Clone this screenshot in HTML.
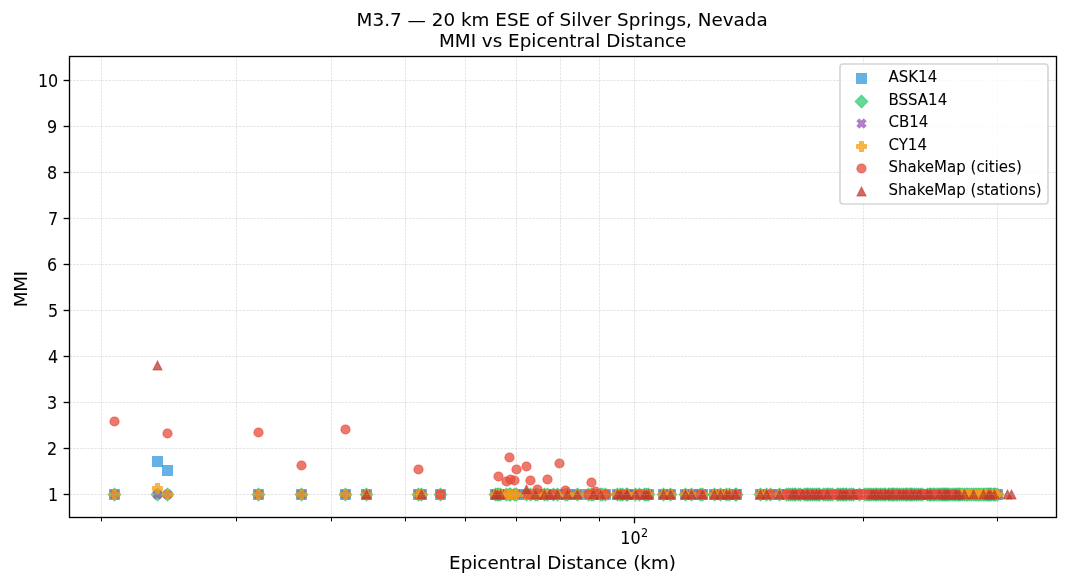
<!DOCTYPE html>
<html lang="en"><head><meta charset="utf-8"><title>MMI vs Epicentral Distance</title>
<style>
html,body{margin:0;padding:0;background:#fff;}
body{width:1067px;height:585px;overflow:hidden;}
svg{display:block;}
svg text{font-family:"DejaVu Sans","Liberation Sans",sans-serif;fill:#000;stroke:#000;stroke-width:.045px;}
.t11{font-size:18.333px}.t10{font-size:16.667px}.t9{font-size:15px}.t7{font-size:11.667px}
.g line{stroke:#b0b0b0;stroke-opacity:.5;stroke-width:.667;stroke-dasharray:2.467 1.067}
.a{fill:#3498DB;stroke:#3498DB}.b{fill:#2ECC71;stroke:#2ECC71}.c{fill:#9B59B6;stroke:#9B59B6}.d{fill:#F39C12;stroke:#F39C12}.e{fill:#E74C3C;stroke:#E74C3C}.s{fill:#C0392B;stroke:#C0392B}
.m *{fill-opacity:.75;stroke-opacity:.75;stroke-width:.833;stroke-linejoin:miter}
.m .b *,.m .c *,.m .s *{stroke-width:1.01;stroke-opacity:.62}
.m .e *{stroke-width:1.05}
.k line{stroke:#000;stroke-width:1.333}
.k .n{stroke-width:1}
</style></head><body>
<svg width="1067" height="585" viewBox="0 0 1067 585">
<rect width="1067" height="585" fill="#fff"/>
<g class="m">
<g class="a"><rect x="109.5" y="489.5" width="10" height="10"/><rect x="152.5" y="456.5" width="10" height="10"/><rect x="162.5" y="465.5" width="10" height="10"/><rect x="253.5" y="489.5" width="10" height="10"/><rect x="296.5" y="489.5" width="10" height="10"/><rect x="340.5" y="489.5" width="10" height="10"/><rect x="361.5" y="489.5" width="10" height="10"/><rect x="413.5" y="489.5" width="10" height="10"/><rect x="416.5" y="489.5" width="10" height="10"/><rect x="435.5" y="489.5" width="10" height="10"/><rect x="490.5" y="489.5" width="10" height="10"/><rect x="492.5" y="489.5" width="10" height="10"/><rect x="493.5" y="489.5" width="10" height="10"/><rect x="495.5" y="489.5" width="10" height="10"/><rect x="501.5" y="489.5" width="10" height="10"/><rect x="504.5" y="489.5" width="10" height="10"/><rect x="505.5" y="489.5" width="10" height="10"/><rect x="509.5" y="489.5" width="10" height="10"/><rect x="511.5" y="489.5" width="10" height="10"/><rect x="521.5" y="489.5" width="10" height="10"/><rect x="525.5" y="489.5" width="10" height="10"/><rect x="530.5" y="489.5" width="10" height="10"/><rect x="532.5" y="489.5" width="10" height="10"/><rect x="539.5" y="489.5" width="10" height="10"/><rect x="542.5" y="489.5" width="10" height="10"/><rect x="548.5" y="489.5" width="10" height="10"/><rect x="552.5" y="489.5" width="10" height="10"/><rect x="560.5" y="489.5" width="10" height="10"/><rect x="562.5" y="489.5" width="10" height="10"/><rect x="572.5" y="489.5" width="10" height="10"/><rect x="583.5" y="489.5" width="10" height="10"/><rect x="586.5" y="489.5" width="10" height="10"/><rect x="588.5" y="489.5" width="10" height="10"/><rect x="595.5" y="489.5" width="10" height="10"/><rect x="597.5" y="489.5" width="10" height="10"/><rect x="600.5" y="489.5" width="10" height="10"/><rect x="612.5" y="489.5" width="10" height="10"/><rect x="615.5" y="489.5" width="10" height="10"/><rect x="617.5" y="489.5" width="10" height="10"/><rect x="621.5" y="489.5" width="10" height="10"/><rect x="622.5" y="489.5" width="10" height="10"/><rect x="630.5" y="489.5" width="10" height="10"/><rect x="634.5" y="489.5" width="10" height="10"/><rect x="639.5" y="489.5" width="10" height="10"/><rect x="641.5" y="489.5" width="10" height="10"/><rect x="643.5" y="489.5" width="10" height="10"/><rect x="658.5" y="489.5" width="10" height="10"/><rect x="665.5" y="489.5" width="10" height="10"/><rect x="680.5" y="489.5" width="10" height="10"/><rect x="686.5" y="489.5" width="10" height="10"/><rect x="695.5" y="489.5" width="10" height="10"/><rect x="697.5" y="489.5" width="10" height="10"/><rect x="709.5" y="489.5" width="10" height="10"/><rect x="715.5" y="489.5" width="10" height="10"/><rect x="721.5" y="489.5" width="10" height="10"/><rect x="724.5" y="489.5" width="10" height="10"/><rect x="730.5" y="489.5" width="10" height="10"/><rect x="731.5" y="489.5" width="10" height="10"/><rect x="755.5" y="489.5" width="10" height="10"/><rect x="761.5" y="489.5" width="10" height="10"/><rect x="765.5" y="489.5" width="10" height="10"/><rect x="774.5" y="489.5" width="10" height="10"/><rect x="781.5" y="489.5" width="10" height="10"/><rect x="783.5" y="489.5" width="10" height="10"/><rect x="785.5" y="489.5" width="10" height="10"/><rect x="787.5" y="489.5" width="10" height="10"/><rect x="789.5" y="489.5" width="10" height="10"/><rect x="790.5" y="489.5" width="10" height="10"/><rect x="793.5" y="489.5" width="10" height="10"/><rect x="795.5" y="489.5" width="10" height="10"/><rect x="799.5" y="489.5" width="10" height="10"/><rect x="801.5" y="489.5" width="10" height="10"/><rect x="802.5" y="489.5" width="10" height="10"/><rect x="803.5" y="489.5" width="10" height="10"/><rect x="805.5" y="489.5" width="10" height="10"/><rect x="807.5" y="489.5" width="10" height="10"/><rect x="809.5" y="489.5" width="10" height="10"/><rect x="811.5" y="489.5" width="10" height="10"/><rect x="813.5" y="489.5" width="10" height="10"/><rect x="814.5" y="489.5" width="10" height="10"/><rect x="818.5" y="489.5" width="10" height="10"/><rect x="820.5" y="489.5" width="10" height="10"/><rect x="822.5" y="489.5" width="10" height="10"/><rect x="823.5" y="489.5" width="10" height="10"/><rect x="825.5" y="489.5" width="10" height="10"/><rect x="827.5" y="489.5" width="10" height="10"/><rect x="832.5" y="489.5" width="10" height="10"/><rect x="833.5" y="489.5" width="10" height="10"/><rect x="835.5" y="489.5" width="10" height="10"/><rect x="837.5" y="489.5" width="10" height="10"/><rect x="838.5" y="489.5" width="10" height="10"/><rect x="840.5" y="489.5" width="10" height="10"/><rect x="841.5" y="489.5" width="10" height="10"/><rect x="844.5" y="489.5" width="10" height="10"/><rect x="846.5" y="489.5" width="10" height="10"/><rect x="848.5" y="489.5" width="10" height="10"/><rect x="854.5" y="489.5" width="10" height="10"/><rect x="859.5" y="489.5" width="10" height="10"/><rect x="861.5" y="489.5" width="10" height="10"/><rect x="863.5" y="489.5" width="10" height="10"/><rect x="864.5" y="489.5" width="10" height="10"/><rect x="866.5" y="489.5" width="10" height="10"/><rect x="868.5" y="489.5" width="10" height="10"/><rect x="870.5" y="489.5" width="10" height="10"/><rect x="871.5" y="489.5" width="10" height="10"/><rect x="873.5" y="489.5" width="10" height="10"/><rect x="875.5" y="489.5" width="10" height="10"/><rect x="877.5" y="489.5" width="10" height="10"/><rect x="879.5" y="489.5" width="10" height="10"/><rect x="880.5" y="489.5" width="10" height="10"/><rect x="883.5" y="489.5" width="10" height="10"/><rect x="884.5" y="489.5" width="10" height="10"/><rect x="886.5" y="489.5" width="10" height="10"/><rect x="887.5" y="489.5" width="10" height="10"/><rect x="888.5" y="489.5" width="10" height="10"/><rect x="889.5" y="489.5" width="10" height="10"/><rect x="891.5" y="489.5" width="10" height="10"/><rect x="892.5" y="489.5" width="10" height="10"/><rect x="894.5" y="489.5" width="10" height="10"/><rect x="896.5" y="489.5" width="10" height="10"/><rect x="898.5" y="489.5" width="10" height="10"/><rect x="900.5" y="489.5" width="10" height="10"/><rect x="901.5" y="489.5" width="10" height="10"/><rect x="902.5" y="489.5" width="10" height="10"/><rect x="904.5" y="489.5" width="10" height="10"/><rect x="905.5" y="489.5" width="10" height="10"/><rect x="906.5" y="489.5" width="10" height="10"/><rect x="907.5" y="489.5" width="10" height="10"/><rect x="909.5" y="489.5" width="10" height="10"/><rect x="911.5" y="489.5" width="10" height="10"/><rect x="913.5" y="489.5" width="10" height="10"/><rect x="915.5" y="489.5" width="10" height="10"/><rect x="917.5" y="489.5" width="10" height="10"/><rect x="922.5" y="489.5" width="10" height="10"/><rect x="924.5" y="489.5" width="10" height="10"/><rect x="925.5" y="489.5" width="10" height="10"/><rect x="926.5" y="489.5" width="10" height="10"/><rect x="928.5" y="489.5" width="10" height="10"/><rect x="929.5" y="489.5" width="10" height="10"/><rect x="931.5" y="489.5" width="10" height="10"/><rect x="933.5" y="489.5" width="10" height="10"/><rect x="934.5" y="489.5" width="10" height="10"/><rect x="936.5" y="489.5" width="10" height="10"/><rect x="937.5" y="489.5" width="10" height="10"/><rect x="938.5" y="489.5" width="10" height="10"/><rect x="939.5" y="489.5" width="10" height="10"/><rect x="940.5" y="489.5" width="10" height="10"/><rect x="941.5" y="489.5" width="10" height="10"/><rect x="942.5" y="489.5" width="10" height="10"/><rect x="943.5" y="489.5" width="10" height="10"/><rect x="945.5" y="489.5" width="10" height="10"/><rect x="947.5" y="489.5" width="10" height="10"/><rect x="949.5" y="489.5" width="10" height="10"/><rect x="950.5" y="489.5" width="10" height="10"/><rect x="952.5" y="489.5" width="10" height="10"/><rect x="953.5" y="489.5" width="10" height="10"/><rect x="954.5" y="489.5" width="10" height="10"/><rect x="955.5" y="489.5" width="10" height="10"/><rect x="957.5" y="489.5" width="10" height="10"/><rect x="959.5" y="489.5" width="10" height="10"/><rect x="961.5" y="489.5" width="10" height="10"/><rect x="962.5" y="489.5" width="10" height="10"/><rect x="964.5" y="489.5" width="10" height="10"/><rect x="966.5" y="489.5" width="10" height="10"/><rect x="968.5" y="489.5" width="10" height="10"/><rect x="970.5" y="489.5" width="10" height="10"/><rect x="971.5" y="489.5" width="10" height="10"/><rect x="973.5" y="489.5" width="10" height="10"/><rect x="974.5" y="489.5" width="10" height="10"/><rect x="976.5" y="489.5" width="10" height="10"/><rect x="978.5" y="489.5" width="10" height="10"/><rect x="979.5" y="489.5" width="10" height="10"/><rect x="981.5" y="489.5" width="10" height="10"/><rect x="982.5" y="489.5" width="10" height="10"/><rect x="983.5" y="489.5" width="10" height="10"/><rect x="984.5" y="489.5" width="10" height="10"/><rect x="985.5" y="489.5" width="10" height="10"/><rect x="986.5" y="489.5" width="10" height="10"/><rect x="988.5" y="489.5" width="10" height="10"/><rect x="989.5" y="489.5" width="10" height="10"/><rect x="990.5" y="489.5" width="10" height="10"/><rect x="992.5" y="489.5" width="10" height="10"/></g>
<g class="b"><path d="M114.5 488.05L120.95 494.5L114.5 500.95L108.05 494.5Z"/><path d="M157.5 488.05L163.95 494.5L157.5 500.95L151.05 494.5Z"/><path d="M167.5 488.05L173.95 494.5L167.5 500.95L161.05 494.5Z"/><path d="M258.5 488.05L264.95 494.5L258.5 500.95L252.05 494.5Z"/><path d="M301.5 488.05L307.95 494.5L301.5 500.95L295.05 494.5Z"/><path d="M345.5 488.05L351.95 494.5L345.5 500.95L339.05 494.5Z"/><path d="M366.5 488.05L372.95 494.5L366.5 500.95L360.05 494.5Z"/><path d="M418.5 488.05L424.95 494.5L418.5 500.95L412.05 494.5Z"/><path d="M421.5 488.05L427.95 494.5L421.5 500.95L415.05 494.5Z"/><path d="M440.5 488.05L446.95 494.5L440.5 500.95L434.05 494.5Z"/><path d="M495.5 488.05L501.95 494.5L495.5 500.95L489.05 494.5Z"/><path d="M497.5 488.05L503.95 494.5L497.5 500.95L491.05 494.5Z"/><path d="M498.5 488.05L504.95 494.5L498.5 500.95L492.05 494.5Z"/><path d="M500.5 488.05L506.95 494.5L500.5 500.95L494.05 494.5Z"/><path d="M506.5 488.05L512.95 494.5L506.5 500.95L500.05 494.5Z"/><path d="M509.5 488.05L515.95 494.5L509.5 500.95L503.05 494.5Z"/><path d="M510.5 488.05L516.95 494.5L510.5 500.95L504.05 494.5Z"/><path d="M514.5 488.05L520.95 494.5L514.5 500.95L508.05 494.5Z"/><path d="M516.5 488.05L522.95 494.5L516.5 500.95L510.05 494.5Z"/><path d="M526.5 488.05L532.95 494.5L526.5 500.95L520.05 494.5Z"/><path d="M530.5 488.05L536.95 494.5L530.5 500.95L524.05 494.5Z"/><path d="M535.5 488.05L541.95 494.5L535.5 500.95L529.05 494.5Z"/><path d="M537.5 488.05L543.95 494.5L537.5 500.95L531.05 494.5Z"/><path d="M544.5 488.05L550.95 494.5L544.5 500.95L538.05 494.5Z"/><path d="M547.5 488.05L553.95 494.5L547.5 500.95L541.05 494.5Z"/><path d="M553.5 488.05L559.95 494.5L553.5 500.95L547.05 494.5Z"/><path d="M557.5 488.05L563.95 494.5L557.5 500.95L551.05 494.5Z"/><path d="M565.5 488.05L571.95 494.5L565.5 500.95L559.05 494.5Z"/><path d="M567.5 488.05L573.95 494.5L567.5 500.95L561.05 494.5Z"/><path d="M577.5 488.05L583.95 494.5L577.5 500.95L571.05 494.5Z"/><path d="M588.5 488.05L594.95 494.5L588.5 500.95L582.05 494.5Z"/><path d="M591.5 488.05L597.95 494.5L591.5 500.95L585.05 494.5Z"/><path d="M593.5 488.05L599.95 494.5L593.5 500.95L587.05 494.5Z"/><path d="M600.5 488.05L606.95 494.5L600.5 500.95L594.05 494.5Z"/><path d="M602.5 488.05L608.95 494.5L602.5 500.95L596.05 494.5Z"/><path d="M605.5 488.05L611.95 494.5L605.5 500.95L599.05 494.5Z"/><path d="M617.5 488.05L623.95 494.5L617.5 500.95L611.05 494.5Z"/><path d="M620.5 488.05L626.95 494.5L620.5 500.95L614.05 494.5Z"/><path d="M622.5 488.05L628.95 494.5L622.5 500.95L616.05 494.5Z"/><path d="M626.5 488.05L632.95 494.5L626.5 500.95L620.05 494.5Z"/><path d="M627.5 488.05L633.95 494.5L627.5 500.95L621.05 494.5Z"/><path d="M635.5 488.05L641.95 494.5L635.5 500.95L629.05 494.5Z"/><path d="M639.5 488.05L645.95 494.5L639.5 500.95L633.05 494.5Z"/><path d="M644.5 488.05L650.95 494.5L644.5 500.95L638.05 494.5Z"/><path d="M646.5 488.05L652.95 494.5L646.5 500.95L640.05 494.5Z"/><path d="M648.5 488.05L654.95 494.5L648.5 500.95L642.05 494.5Z"/><path d="M663.5 488.05L669.95 494.5L663.5 500.95L657.05 494.5Z"/><path d="M670.5 488.05L676.95 494.5L670.5 500.95L664.05 494.5Z"/><path d="M685.5 488.05L691.95 494.5L685.5 500.95L679.05 494.5Z"/><path d="M691.5 488.05L697.95 494.5L691.5 500.95L685.05 494.5Z"/><path d="M700.5 488.05L706.95 494.5L700.5 500.95L694.05 494.5Z"/><path d="M702.5 488.05L708.95 494.5L702.5 500.95L696.05 494.5Z"/><path d="M714.5 488.05L720.95 494.5L714.5 500.95L708.05 494.5Z"/><path d="M720.5 488.05L726.95 494.5L720.5 500.95L714.05 494.5Z"/><path d="M726.5 488.05L732.95 494.5L726.5 500.95L720.05 494.5Z"/><path d="M729.5 488.05L735.95 494.5L729.5 500.95L723.05 494.5Z"/><path d="M735.5 488.05L741.95 494.5L735.5 500.95L729.05 494.5Z"/><path d="M736.5 488.05L742.95 494.5L736.5 500.95L730.05 494.5Z"/><path d="M760.5 488.05L766.95 494.5L760.5 500.95L754.05 494.5Z"/><path d="M766.5 488.05L772.95 494.5L766.5 500.95L760.05 494.5Z"/><path d="M770.5 488.05L776.95 494.5L770.5 500.95L764.05 494.5Z"/><path d="M779.5 488.05L785.95 494.5L779.5 500.95L773.05 494.5Z"/><path d="M786.5 488.05L792.95 494.5L786.5 500.95L780.05 494.5Z"/><path d="M788.5 488.05L794.95 494.5L788.5 500.95L782.05 494.5Z"/><path d="M790.5 488.05L796.95 494.5L790.5 500.95L784.05 494.5Z"/><path d="M792.5 488.05L798.95 494.5L792.5 500.95L786.05 494.5Z"/><path d="M794.5 488.05L800.95 494.5L794.5 500.95L788.05 494.5Z"/><path d="M795.5 488.05L801.95 494.5L795.5 500.95L789.05 494.5Z"/><path d="M798.5 488.05L804.95 494.5L798.5 500.95L792.05 494.5Z"/><path d="M800.5 488.05L806.95 494.5L800.5 500.95L794.05 494.5Z"/><path d="M804.5 488.05L810.95 494.5L804.5 500.95L798.05 494.5Z"/><path d="M806.5 488.05L812.95 494.5L806.5 500.95L800.05 494.5Z"/><path d="M807.5 488.05L813.95 494.5L807.5 500.95L801.05 494.5Z"/><path d="M808.5 488.05L814.95 494.5L808.5 500.95L802.05 494.5Z"/><path d="M810.5 488.05L816.95 494.5L810.5 500.95L804.05 494.5Z"/><path d="M812.5 488.05L818.95 494.5L812.5 500.95L806.05 494.5Z"/><path d="M814.5 488.05L820.95 494.5L814.5 500.95L808.05 494.5Z"/><path d="M816.5 488.05L822.95 494.5L816.5 500.95L810.05 494.5Z"/><path d="M818.5 488.05L824.95 494.5L818.5 500.95L812.05 494.5Z"/><path d="M819.5 488.05L825.95 494.5L819.5 500.95L813.05 494.5Z"/><path d="M823.5 488.05L829.95 494.5L823.5 500.95L817.05 494.5Z"/><path d="M825.5 488.05L831.95 494.5L825.5 500.95L819.05 494.5Z"/><path d="M827.5 488.05L833.95 494.5L827.5 500.95L821.05 494.5Z"/><path d="M828.5 488.05L834.95 494.5L828.5 500.95L822.05 494.5Z"/><path d="M830.5 488.05L836.95 494.5L830.5 500.95L824.05 494.5Z"/><path d="M832.5 488.05L838.95 494.5L832.5 500.95L826.05 494.5Z"/><path d="M837.5 488.05L843.95 494.5L837.5 500.95L831.05 494.5Z"/><path d="M838.5 488.05L844.95 494.5L838.5 500.95L832.05 494.5Z"/><path d="M840.5 488.05L846.95 494.5L840.5 500.95L834.05 494.5Z"/><path d="M842.5 488.05L848.95 494.5L842.5 500.95L836.05 494.5Z"/><path d="M843.5 488.05L849.95 494.5L843.5 500.95L837.05 494.5Z"/><path d="M845.5 488.05L851.95 494.5L845.5 500.95L839.05 494.5Z"/><path d="M846.5 488.05L852.95 494.5L846.5 500.95L840.05 494.5Z"/><path d="M849.5 488.05L855.95 494.5L849.5 500.95L843.05 494.5Z"/><path d="M851.5 488.05L857.95 494.5L851.5 500.95L845.05 494.5Z"/><path d="M853.5 488.05L859.95 494.5L853.5 500.95L847.05 494.5Z"/><path d="M859.5 488.05L865.95 494.5L859.5 500.95L853.05 494.5Z"/><path d="M864.5 488.05L870.95 494.5L864.5 500.95L858.05 494.5Z"/><path d="M866.5 488.05L872.95 494.5L866.5 500.95L860.05 494.5Z"/><path d="M868.5 488.05L874.95 494.5L868.5 500.95L862.05 494.5Z"/><path d="M869.5 488.05L875.95 494.5L869.5 500.95L863.05 494.5Z"/><path d="M871.5 488.05L877.95 494.5L871.5 500.95L865.05 494.5Z"/><path d="M873.5 488.05L879.95 494.5L873.5 500.95L867.05 494.5Z"/><path d="M875.5 488.05L881.95 494.5L875.5 500.95L869.05 494.5Z"/><path d="M876.5 488.05L882.95 494.5L876.5 500.95L870.05 494.5Z"/><path d="M878.5 488.05L884.95 494.5L878.5 500.95L872.05 494.5Z"/><path d="M880.5 488.05L886.95 494.5L880.5 500.95L874.05 494.5Z"/><path d="M882.5 488.05L888.95 494.5L882.5 500.95L876.05 494.5Z"/><path d="M884.5 488.05L890.95 494.5L884.5 500.95L878.05 494.5Z"/><path d="M885.5 488.05L891.95 494.5L885.5 500.95L879.05 494.5Z"/><path d="M888.5 488.05L894.95 494.5L888.5 500.95L882.05 494.5Z"/><path d="M889.5 488.05L895.95 494.5L889.5 500.95L883.05 494.5Z"/><path d="M891.5 488.05L897.95 494.5L891.5 500.95L885.05 494.5Z"/><path d="M892.5 488.05L898.95 494.5L892.5 500.95L886.05 494.5Z"/><path d="M893.5 488.05L899.95 494.5L893.5 500.95L887.05 494.5Z"/><path d="M894.5 488.05L900.95 494.5L894.5 500.95L888.05 494.5Z"/><path d="M896.5 488.05L902.95 494.5L896.5 500.95L890.05 494.5Z"/><path d="M897.5 488.05L903.95 494.5L897.5 500.95L891.05 494.5Z"/><path d="M899.5 488.05L905.95 494.5L899.5 500.95L893.05 494.5Z"/><path d="M901.5 488.05L907.95 494.5L901.5 500.95L895.05 494.5Z"/><path d="M903.5 488.05L909.95 494.5L903.5 500.95L897.05 494.5Z"/><path d="M905.5 488.05L911.95 494.5L905.5 500.95L899.05 494.5Z"/><path d="M906.5 488.05L912.95 494.5L906.5 500.95L900.05 494.5Z"/><path d="M907.5 488.05L913.95 494.5L907.5 500.95L901.05 494.5Z"/><path d="M909.5 488.05L915.95 494.5L909.5 500.95L903.05 494.5Z"/><path d="M910.5 488.05L916.95 494.5L910.5 500.95L904.05 494.5Z"/><path d="M911.5 488.05L917.95 494.5L911.5 500.95L905.05 494.5Z"/><path d="M912.5 488.05L918.95 494.5L912.5 500.95L906.05 494.5Z"/><path d="M914.5 488.05L920.95 494.5L914.5 500.95L908.05 494.5Z"/><path d="M916.5 488.05L922.95 494.5L916.5 500.95L910.05 494.5Z"/><path d="M918.5 488.05L924.95 494.5L918.5 500.95L912.05 494.5Z"/><path d="M920.5 488.05L926.95 494.5L920.5 500.95L914.05 494.5Z"/><path d="M922.5 488.05L928.95 494.5L922.5 500.95L916.05 494.5Z"/><path d="M927.5 488.05L933.95 494.5L927.5 500.95L921.05 494.5Z"/><path d="M929.5 488.05L935.95 494.5L929.5 500.95L923.05 494.5Z"/><path d="M930.5 488.05L936.95 494.5L930.5 500.95L924.05 494.5Z"/><path d="M931.5 488.05L937.95 494.5L931.5 500.95L925.05 494.5Z"/><path d="M933.5 488.05L939.95 494.5L933.5 500.95L927.05 494.5Z"/><path d="M934.5 488.05L940.95 494.5L934.5 500.95L928.05 494.5Z"/><path d="M936.5 488.05L942.95 494.5L936.5 500.95L930.05 494.5Z"/><path d="M938.5 488.05L944.95 494.5L938.5 500.95L932.05 494.5Z"/><path d="M939.5 488.05L945.95 494.5L939.5 500.95L933.05 494.5Z"/><path d="M941.5 488.05L947.95 494.5L941.5 500.95L935.05 494.5Z"/><path d="M942.5 488.05L948.95 494.5L942.5 500.95L936.05 494.5Z"/><path d="M943.5 488.05L949.95 494.5L943.5 500.95L937.05 494.5Z"/><path d="M944.5 488.05L950.95 494.5L944.5 500.95L938.05 494.5Z"/><path d="M945.5 488.05L951.95 494.5L945.5 500.95L939.05 494.5Z"/><path d="M946.5 488.05L952.95 494.5L946.5 500.95L940.05 494.5Z"/><path d="M947.5 488.05L953.95 494.5L947.5 500.95L941.05 494.5Z"/><path d="M948.5 488.05L954.95 494.5L948.5 500.95L942.05 494.5Z"/><path d="M950.5 488.05L956.95 494.5L950.5 500.95L944.05 494.5Z"/><path d="M952.5 488.05L958.95 494.5L952.5 500.95L946.05 494.5Z"/><path d="M954.5 488.05L960.95 494.5L954.5 500.95L948.05 494.5Z"/><path d="M955.5 488.05L961.95 494.5L955.5 500.95L949.05 494.5Z"/><path d="M957.5 488.05L963.95 494.5L957.5 500.95L951.05 494.5Z"/><path d="M958.5 488.05L964.95 494.5L958.5 500.95L952.05 494.5Z"/><path d="M959.5 488.05L965.95 494.5L959.5 500.95L953.05 494.5Z"/><path d="M960.5 488.05L966.95 494.5L960.5 500.95L954.05 494.5Z"/><path d="M962.5 488.05L968.95 494.5L962.5 500.95L956.05 494.5Z"/><path d="M964.5 488.05L970.95 494.5L964.5 500.95L958.05 494.5Z"/><path d="M966.5 488.05L972.95 494.5L966.5 500.95L960.05 494.5Z"/><path d="M967.5 488.05L973.95 494.5L967.5 500.95L961.05 494.5Z"/><path d="M969.5 488.05L975.95 494.5L969.5 500.95L963.05 494.5Z"/><path d="M971.5 488.05L977.95 494.5L971.5 500.95L965.05 494.5Z"/><path d="M973.5 488.05L979.95 494.5L973.5 500.95L967.05 494.5Z"/><path d="M975.5 488.05L981.95 494.5L975.5 500.95L969.05 494.5Z"/><path d="M976.5 488.05L982.95 494.5L976.5 500.95L970.05 494.5Z"/><path d="M978.5 488.05L984.95 494.5L978.5 500.95L972.05 494.5Z"/><path d="M979.5 488.05L985.95 494.5L979.5 500.95L973.05 494.5Z"/><path d="M981.5 488.05L987.95 494.5L981.5 500.95L975.05 494.5Z"/><path d="M983.5 488.05L989.95 494.5L983.5 500.95L977.05 494.5Z"/><path d="M984.5 488.05L990.95 494.5L984.5 500.95L978.05 494.5Z"/><path d="M986.5 488.05L992.95 494.5L986.5 500.95L980.05 494.5Z"/><path d="M987.5 488.05L993.95 494.5L987.5 500.95L981.05 494.5Z"/><path d="M988.5 488.05L994.95 494.5L988.5 500.95L982.05 494.5Z"/><path d="M989.5 488.05L995.95 494.5L989.5 500.95L983.05 494.5Z"/><path d="M990.5 488.05L996.95 494.5L990.5 500.95L984.05 494.5Z"/><path d="M991.5 488.05L997.95 494.5L991.5 500.95L985.05 494.5Z"/><path d="M993.5 488.05L999.95 494.5L993.5 500.95L987.05 494.5Z"/><path d="M994.5 488.05L1000.95 494.5L994.5 500.95L988.05 494.5Z"/><path d="M995.5 488.05L1001.95 494.5L995.5 500.95L989.05 494.5Z"/><path d="M997.5 488.05L1003.95 494.5L997.5 500.95L991.05 494.5Z"/></g>
<g class="c"><path d="M112.22 499.06L114.5 496.78L116.78 499.06L119.06 496.78L116.78 494.5L119.06 492.22L116.78 489.94L114.5 492.22L112.22 489.94L109.94 492.22L112.22 494.5L109.94 496.78Z"/><path d="M155.22 499.06L157.5 496.78L159.78 499.06L162.06 496.78L159.78 494.5L162.06 492.22L159.78 489.94L157.5 492.22L155.22 489.94L152.94 492.22L155.22 494.5L152.94 496.78Z"/><path d="M165.22 499.06L167.5 496.78L169.78 499.06L172.06 496.78L169.78 494.5L172.06 492.22L169.78 489.94L167.5 492.22L165.22 489.94L162.94 492.22L165.22 494.5L162.94 496.78Z"/><path d="M256.22 499.06L258.5 496.78L260.78 499.06L263.06 496.78L260.78 494.5L263.06 492.22L260.78 489.94L258.5 492.22L256.22 489.94L253.94 492.22L256.22 494.5L253.94 496.78Z"/><path d="M299.22 499.06L301.5 496.78L303.78 499.06L306.06 496.78L303.78 494.5L306.06 492.22L303.78 489.94L301.5 492.22L299.22 489.94L296.94 492.22L299.22 494.5L296.94 496.78Z"/><path d="M343.22 499.06L345.5 496.78L347.78 499.06L350.06 496.78L347.78 494.5L350.06 492.22L347.78 489.94L345.5 492.22L343.22 489.94L340.94 492.22L343.22 494.5L340.94 496.78Z"/><path d="M364.22 499.06L366.5 496.78L368.78 499.06L371.06 496.78L368.78 494.5L371.06 492.22L368.78 489.94L366.5 492.22L364.22 489.94L361.94 492.22L364.22 494.5L361.94 496.78Z"/><path d="M416.22 499.06L418.5 496.78L420.78 499.06L423.06 496.78L420.78 494.5L423.06 492.22L420.78 489.94L418.5 492.22L416.22 489.94L413.94 492.22L416.22 494.5L413.94 496.78Z"/><path d="M419.22 499.06L421.5 496.78L423.78 499.06L426.06 496.78L423.78 494.5L426.06 492.22L423.78 489.94L421.5 492.22L419.22 489.94L416.94 492.22L419.22 494.5L416.94 496.78Z"/><path d="M438.22 499.06L440.5 496.78L442.78 499.06L445.06 496.78L442.78 494.5L445.06 492.22L442.78 489.94L440.5 492.22L438.22 489.94L435.94 492.22L438.22 494.5L435.94 496.78Z"/><path d="M493.22 499.06L495.5 496.78L497.78 499.06L500.06 496.78L497.78 494.5L500.06 492.22L497.78 489.94L495.5 492.22L493.22 489.94L490.94 492.22L493.22 494.5L490.94 496.78Z"/><path d="M495.22 499.06L497.5 496.78L499.78 499.06L502.06 496.78L499.78 494.5L502.06 492.22L499.78 489.94L497.5 492.22L495.22 489.94L492.94 492.22L495.22 494.5L492.94 496.78Z"/><path d="M496.22 499.06L498.5 496.78L500.78 499.06L503.06 496.78L500.78 494.5L503.06 492.22L500.78 489.94L498.5 492.22L496.22 489.94L493.94 492.22L496.22 494.5L493.94 496.78Z"/><path d="M498.22 499.06L500.5 496.78L502.78 499.06L505.06 496.78L502.78 494.5L505.06 492.22L502.78 489.94L500.5 492.22L498.22 489.94L495.94 492.22L498.22 494.5L495.94 496.78Z"/><path d="M504.22 499.06L506.5 496.78L508.78 499.06L511.06 496.78L508.78 494.5L511.06 492.22L508.78 489.94L506.5 492.22L504.22 489.94L501.94 492.22L504.22 494.5L501.94 496.78Z"/><path d="M507.22 499.06L509.5 496.78L511.78 499.06L514.06 496.78L511.78 494.5L514.06 492.22L511.78 489.94L509.5 492.22L507.22 489.94L504.94 492.22L507.22 494.5L504.94 496.78Z"/><path d="M508.22 499.06L510.5 496.78L512.78 499.06L515.06 496.78L512.78 494.5L515.06 492.22L512.78 489.94L510.5 492.22L508.22 489.94L505.94 492.22L508.22 494.5L505.94 496.78Z"/><path d="M512.22 499.06L514.5 496.78L516.78 499.06L519.06 496.78L516.78 494.5L519.06 492.22L516.78 489.94L514.5 492.22L512.22 489.94L509.94 492.22L512.22 494.5L509.94 496.78Z"/><path d="M514.22 499.06L516.5 496.78L518.78 499.06L521.06 496.78L518.78 494.5L521.06 492.22L518.78 489.94L516.5 492.22L514.22 489.94L511.94 492.22L514.22 494.5L511.94 496.78Z"/><path d="M524.22 499.06L526.5 496.78L528.78 499.06L531.06 496.78L528.78 494.5L531.06 492.22L528.78 489.94L526.5 492.22L524.22 489.94L521.94 492.22L524.22 494.5L521.94 496.78Z"/><path d="M528.22 499.06L530.5 496.78L532.78 499.06L535.06 496.78L532.78 494.5L535.06 492.22L532.78 489.94L530.5 492.22L528.22 489.94L525.94 492.22L528.22 494.5L525.94 496.78Z"/><path d="M533.22 499.06L535.5 496.78L537.78 499.06L540.06 496.78L537.78 494.5L540.06 492.22L537.78 489.94L535.5 492.22L533.22 489.94L530.94 492.22L533.22 494.5L530.94 496.78Z"/><path d="M535.22 499.06L537.5 496.78L539.78 499.06L542.06 496.78L539.78 494.5L542.06 492.22L539.78 489.94L537.5 492.22L535.22 489.94L532.94 492.22L535.22 494.5L532.94 496.78Z"/><path d="M542.22 499.06L544.5 496.78L546.78 499.06L549.06 496.78L546.78 494.5L549.06 492.22L546.78 489.94L544.5 492.22L542.22 489.94L539.94 492.22L542.22 494.5L539.94 496.78Z"/><path d="M545.22 499.06L547.5 496.78L549.78 499.06L552.06 496.78L549.78 494.5L552.06 492.22L549.78 489.94L547.5 492.22L545.22 489.94L542.94 492.22L545.22 494.5L542.94 496.78Z"/><path d="M551.22 499.06L553.5 496.78L555.78 499.06L558.06 496.78L555.78 494.5L558.06 492.22L555.78 489.94L553.5 492.22L551.22 489.94L548.94 492.22L551.22 494.5L548.94 496.78Z"/><path d="M555.22 499.06L557.5 496.78L559.78 499.06L562.06 496.78L559.78 494.5L562.06 492.22L559.78 489.94L557.5 492.22L555.22 489.94L552.94 492.22L555.22 494.5L552.94 496.78Z"/><path d="M563.22 499.06L565.5 496.78L567.78 499.06L570.06 496.78L567.78 494.5L570.06 492.22L567.78 489.94L565.5 492.22L563.22 489.94L560.94 492.22L563.22 494.5L560.94 496.78Z"/><path d="M565.22 499.06L567.5 496.78L569.78 499.06L572.06 496.78L569.78 494.5L572.06 492.22L569.78 489.94L567.5 492.22L565.22 489.94L562.94 492.22L565.22 494.5L562.94 496.78Z"/><path d="M575.22 499.06L577.5 496.78L579.78 499.06L582.06 496.78L579.78 494.5L582.06 492.22L579.78 489.94L577.5 492.22L575.22 489.94L572.94 492.22L575.22 494.5L572.94 496.78Z"/><path d="M586.22 499.06L588.5 496.78L590.78 499.06L593.06 496.78L590.78 494.5L593.06 492.22L590.78 489.94L588.5 492.22L586.22 489.94L583.94 492.22L586.22 494.5L583.94 496.78Z"/><path d="M589.22 499.06L591.5 496.78L593.78 499.06L596.06 496.78L593.78 494.5L596.06 492.22L593.78 489.94L591.5 492.22L589.22 489.94L586.94 492.22L589.22 494.5L586.94 496.78Z"/><path d="M591.22 499.06L593.5 496.78L595.78 499.06L598.06 496.78L595.78 494.5L598.06 492.22L595.78 489.94L593.5 492.22L591.22 489.94L588.94 492.22L591.22 494.5L588.94 496.78Z"/><path d="M598.22 499.06L600.5 496.78L602.78 499.06L605.06 496.78L602.78 494.5L605.06 492.22L602.78 489.94L600.5 492.22L598.22 489.94L595.94 492.22L598.22 494.5L595.94 496.78Z"/><path d="M600.22 499.06L602.5 496.78L604.78 499.06L607.06 496.78L604.78 494.5L607.06 492.22L604.78 489.94L602.5 492.22L600.22 489.94L597.94 492.22L600.22 494.5L597.94 496.78Z"/><path d="M603.22 499.06L605.5 496.78L607.78 499.06L610.06 496.78L607.78 494.5L610.06 492.22L607.78 489.94L605.5 492.22L603.22 489.94L600.94 492.22L603.22 494.5L600.94 496.78Z"/><path d="M615.22 499.06L617.5 496.78L619.78 499.06L622.06 496.78L619.78 494.5L622.06 492.22L619.78 489.94L617.5 492.22L615.22 489.94L612.94 492.22L615.22 494.5L612.94 496.78Z"/><path d="M618.22 499.06L620.5 496.78L622.78 499.06L625.06 496.78L622.78 494.5L625.06 492.22L622.78 489.94L620.5 492.22L618.22 489.94L615.94 492.22L618.22 494.5L615.94 496.78Z"/><path d="M620.22 499.06L622.5 496.78L624.78 499.06L627.06 496.78L624.78 494.5L627.06 492.22L624.78 489.94L622.5 492.22L620.22 489.94L617.94 492.22L620.22 494.5L617.94 496.78Z"/><path d="M624.22 499.06L626.5 496.78L628.78 499.06L631.06 496.78L628.78 494.5L631.06 492.22L628.78 489.94L626.5 492.22L624.22 489.94L621.94 492.22L624.22 494.5L621.94 496.78Z"/><path d="M625.22 499.06L627.5 496.78L629.78 499.06L632.06 496.78L629.78 494.5L632.06 492.22L629.78 489.94L627.5 492.22L625.22 489.94L622.94 492.22L625.22 494.5L622.94 496.78Z"/><path d="M633.22 499.06L635.5 496.78L637.78 499.06L640.06 496.78L637.78 494.5L640.06 492.22L637.78 489.94L635.5 492.22L633.22 489.94L630.94 492.22L633.22 494.5L630.94 496.78Z"/><path d="M637.22 499.06L639.5 496.78L641.78 499.06L644.06 496.78L641.78 494.5L644.06 492.22L641.78 489.94L639.5 492.22L637.22 489.94L634.94 492.22L637.22 494.5L634.94 496.78Z"/><path d="M642.22 499.06L644.5 496.78L646.78 499.06L649.06 496.78L646.78 494.5L649.06 492.22L646.78 489.94L644.5 492.22L642.22 489.94L639.94 492.22L642.22 494.5L639.94 496.78Z"/><path d="M644.22 499.06L646.5 496.78L648.78 499.06L651.06 496.78L648.78 494.5L651.06 492.22L648.78 489.94L646.5 492.22L644.22 489.94L641.94 492.22L644.22 494.5L641.94 496.78Z"/><path d="M646.22 499.06L648.5 496.78L650.78 499.06L653.06 496.78L650.78 494.5L653.06 492.22L650.78 489.94L648.5 492.22L646.22 489.94L643.94 492.22L646.22 494.5L643.94 496.78Z"/><path d="M661.22 499.06L663.5 496.78L665.78 499.06L668.06 496.78L665.78 494.5L668.06 492.22L665.78 489.94L663.5 492.22L661.22 489.94L658.94 492.22L661.22 494.5L658.94 496.78Z"/><path d="M668.22 499.06L670.5 496.78L672.78 499.06L675.06 496.78L672.78 494.5L675.06 492.22L672.78 489.94L670.5 492.22L668.22 489.94L665.94 492.22L668.22 494.5L665.94 496.78Z"/><path d="M683.22 499.06L685.5 496.78L687.78 499.06L690.06 496.78L687.78 494.5L690.06 492.22L687.78 489.94L685.5 492.22L683.22 489.94L680.94 492.22L683.22 494.5L680.94 496.78Z"/><path d="M689.22 499.06L691.5 496.78L693.78 499.06L696.06 496.78L693.78 494.5L696.06 492.22L693.78 489.94L691.5 492.22L689.22 489.94L686.94 492.22L689.22 494.5L686.94 496.78Z"/><path d="M698.22 499.06L700.5 496.78L702.78 499.06L705.06 496.78L702.78 494.5L705.06 492.22L702.78 489.94L700.5 492.22L698.22 489.94L695.94 492.22L698.22 494.5L695.94 496.78Z"/><path d="M700.22 499.06L702.5 496.78L704.78 499.06L707.06 496.78L704.78 494.5L707.06 492.22L704.78 489.94L702.5 492.22L700.22 489.94L697.94 492.22L700.22 494.5L697.94 496.78Z"/><path d="M712.22 499.06L714.5 496.78L716.78 499.06L719.06 496.78L716.78 494.5L719.06 492.22L716.78 489.94L714.5 492.22L712.22 489.94L709.94 492.22L712.22 494.5L709.94 496.78Z"/><path d="M718.22 499.06L720.5 496.78L722.78 499.06L725.06 496.78L722.78 494.5L725.06 492.22L722.78 489.94L720.5 492.22L718.22 489.94L715.94 492.22L718.22 494.5L715.94 496.78Z"/><path d="M724.22 499.06L726.5 496.78L728.78 499.06L731.06 496.78L728.78 494.5L731.06 492.22L728.78 489.94L726.5 492.22L724.22 489.94L721.94 492.22L724.22 494.5L721.94 496.78Z"/><path d="M727.22 499.06L729.5 496.78L731.78 499.06L734.06 496.78L731.78 494.5L734.06 492.22L731.78 489.94L729.5 492.22L727.22 489.94L724.94 492.22L727.22 494.5L724.94 496.78Z"/><path d="M733.22 499.06L735.5 496.78L737.78 499.06L740.06 496.78L737.78 494.5L740.06 492.22L737.78 489.94L735.5 492.22L733.22 489.94L730.94 492.22L733.22 494.5L730.94 496.78Z"/><path d="M734.22 499.06L736.5 496.78L738.78 499.06L741.06 496.78L738.78 494.5L741.06 492.22L738.78 489.94L736.5 492.22L734.22 489.94L731.94 492.22L734.22 494.5L731.94 496.78Z"/><path d="M758.22 499.06L760.5 496.78L762.78 499.06L765.06 496.78L762.78 494.5L765.06 492.22L762.78 489.94L760.5 492.22L758.22 489.94L755.94 492.22L758.22 494.5L755.94 496.78Z"/><path d="M764.22 499.06L766.5 496.78L768.78 499.06L771.06 496.78L768.78 494.5L771.06 492.22L768.78 489.94L766.5 492.22L764.22 489.94L761.94 492.22L764.22 494.5L761.94 496.78Z"/><path d="M768.22 499.06L770.5 496.78L772.78 499.06L775.06 496.78L772.78 494.5L775.06 492.22L772.78 489.94L770.5 492.22L768.22 489.94L765.94 492.22L768.22 494.5L765.94 496.78Z"/><path d="M777.22 499.06L779.5 496.78L781.78 499.06L784.06 496.78L781.78 494.5L784.06 492.22L781.78 489.94L779.5 492.22L777.22 489.94L774.94 492.22L777.22 494.5L774.94 496.78Z"/><path d="M784.22 499.06L786.5 496.78L788.78 499.06L791.06 496.78L788.78 494.5L791.06 492.22L788.78 489.94L786.5 492.22L784.22 489.94L781.94 492.22L784.22 494.5L781.94 496.78Z"/><path d="M786.22 499.06L788.5 496.78L790.78 499.06L793.06 496.78L790.78 494.5L793.06 492.22L790.78 489.94L788.5 492.22L786.22 489.94L783.94 492.22L786.22 494.5L783.94 496.78Z"/><path d="M788.22 499.06L790.5 496.78L792.78 499.06L795.06 496.78L792.78 494.5L795.06 492.22L792.78 489.94L790.5 492.22L788.22 489.94L785.94 492.22L788.22 494.5L785.94 496.78Z"/><path d="M790.22 499.06L792.5 496.78L794.78 499.06L797.06 496.78L794.78 494.5L797.06 492.22L794.78 489.94L792.5 492.22L790.22 489.94L787.94 492.22L790.22 494.5L787.94 496.78Z"/><path d="M792.22 499.06L794.5 496.78L796.78 499.06L799.06 496.78L796.78 494.5L799.06 492.22L796.78 489.94L794.5 492.22L792.22 489.94L789.94 492.22L792.22 494.5L789.94 496.78Z"/><path d="M793.22 499.06L795.5 496.78L797.78 499.06L800.06 496.78L797.78 494.5L800.06 492.22L797.78 489.94L795.5 492.22L793.22 489.94L790.94 492.22L793.22 494.5L790.94 496.78Z"/><path d="M796.22 499.06L798.5 496.78L800.78 499.06L803.06 496.78L800.78 494.5L803.06 492.22L800.78 489.94L798.5 492.22L796.22 489.94L793.94 492.22L796.22 494.5L793.94 496.78Z"/><path d="M798.22 499.06L800.5 496.78L802.78 499.06L805.06 496.78L802.78 494.5L805.06 492.22L802.78 489.94L800.5 492.22L798.22 489.94L795.94 492.22L798.22 494.5L795.94 496.78Z"/><path d="M802.22 499.06L804.5 496.78L806.78 499.06L809.06 496.78L806.78 494.5L809.06 492.22L806.78 489.94L804.5 492.22L802.22 489.94L799.94 492.22L802.22 494.5L799.94 496.78Z"/><path d="M804.22 499.06L806.5 496.78L808.78 499.06L811.06 496.78L808.78 494.5L811.06 492.22L808.78 489.94L806.5 492.22L804.22 489.94L801.94 492.22L804.22 494.5L801.94 496.78Z"/><path d="M805.22 499.06L807.5 496.78L809.78 499.06L812.06 496.78L809.78 494.5L812.06 492.22L809.78 489.94L807.5 492.22L805.22 489.94L802.94 492.22L805.22 494.5L802.94 496.78Z"/><path d="M806.22 499.06L808.5 496.78L810.78 499.06L813.06 496.78L810.78 494.5L813.06 492.22L810.78 489.94L808.5 492.22L806.22 489.94L803.94 492.22L806.22 494.5L803.94 496.78Z"/><path d="M808.22 499.06L810.5 496.78L812.78 499.06L815.06 496.78L812.78 494.5L815.06 492.22L812.78 489.94L810.5 492.22L808.22 489.94L805.94 492.22L808.22 494.5L805.94 496.78Z"/><path d="M810.22 499.06L812.5 496.78L814.78 499.06L817.06 496.78L814.78 494.5L817.06 492.22L814.78 489.94L812.5 492.22L810.22 489.94L807.94 492.22L810.22 494.5L807.94 496.78Z"/><path d="M812.22 499.06L814.5 496.78L816.78 499.06L819.06 496.78L816.78 494.5L819.06 492.22L816.78 489.94L814.5 492.22L812.22 489.94L809.94 492.22L812.22 494.5L809.94 496.78Z"/><path d="M814.22 499.06L816.5 496.78L818.78 499.06L821.06 496.78L818.78 494.5L821.06 492.22L818.78 489.94L816.5 492.22L814.22 489.94L811.94 492.22L814.22 494.5L811.94 496.78Z"/><path d="M816.22 499.06L818.5 496.78L820.78 499.06L823.06 496.78L820.78 494.5L823.06 492.22L820.78 489.94L818.5 492.22L816.22 489.94L813.94 492.22L816.22 494.5L813.94 496.78Z"/><path d="M817.22 499.06L819.5 496.78L821.78 499.06L824.06 496.78L821.78 494.5L824.06 492.22L821.78 489.94L819.5 492.22L817.22 489.94L814.94 492.22L817.22 494.5L814.94 496.78Z"/><path d="M821.22 499.06L823.5 496.78L825.78 499.06L828.06 496.78L825.78 494.5L828.06 492.22L825.78 489.94L823.5 492.22L821.22 489.94L818.94 492.22L821.22 494.5L818.94 496.78Z"/><path d="M823.22 499.06L825.5 496.78L827.78 499.06L830.06 496.78L827.78 494.5L830.06 492.22L827.78 489.94L825.5 492.22L823.22 489.94L820.94 492.22L823.22 494.5L820.94 496.78Z"/><path d="M825.22 499.06L827.5 496.78L829.78 499.06L832.06 496.78L829.78 494.5L832.06 492.22L829.78 489.94L827.5 492.22L825.22 489.94L822.94 492.22L825.22 494.5L822.94 496.78Z"/><path d="M826.22 499.06L828.5 496.78L830.78 499.06L833.06 496.78L830.78 494.5L833.06 492.22L830.78 489.94L828.5 492.22L826.22 489.94L823.94 492.22L826.22 494.5L823.94 496.78Z"/><path d="M828.22 499.06L830.5 496.78L832.78 499.06L835.06 496.78L832.78 494.5L835.06 492.22L832.78 489.94L830.5 492.22L828.22 489.94L825.94 492.22L828.22 494.5L825.94 496.78Z"/><path d="M830.22 499.06L832.5 496.78L834.78 499.06L837.06 496.78L834.78 494.5L837.06 492.22L834.78 489.94L832.5 492.22L830.22 489.94L827.94 492.22L830.22 494.5L827.94 496.78Z"/><path d="M835.22 499.06L837.5 496.78L839.78 499.06L842.06 496.78L839.78 494.5L842.06 492.22L839.78 489.94L837.5 492.22L835.22 489.94L832.94 492.22L835.22 494.5L832.94 496.78Z"/><path d="M836.22 499.06L838.5 496.78L840.78 499.06L843.06 496.78L840.78 494.5L843.06 492.22L840.78 489.94L838.5 492.22L836.22 489.94L833.94 492.22L836.22 494.5L833.94 496.78Z"/><path d="M838.22 499.06L840.5 496.78L842.78 499.06L845.06 496.78L842.78 494.5L845.06 492.22L842.78 489.94L840.5 492.22L838.22 489.94L835.94 492.22L838.22 494.5L835.94 496.78Z"/><path d="M840.22 499.06L842.5 496.78L844.78 499.06L847.06 496.78L844.78 494.5L847.06 492.22L844.78 489.94L842.5 492.22L840.22 489.94L837.94 492.22L840.22 494.5L837.94 496.78Z"/><path d="M841.22 499.06L843.5 496.78L845.78 499.06L848.06 496.78L845.78 494.5L848.06 492.22L845.78 489.94L843.5 492.22L841.22 489.94L838.94 492.22L841.22 494.5L838.94 496.78Z"/><path d="M843.22 499.06L845.5 496.78L847.78 499.06L850.06 496.78L847.78 494.5L850.06 492.22L847.78 489.94L845.5 492.22L843.22 489.94L840.94 492.22L843.22 494.5L840.94 496.78Z"/><path d="M844.22 499.06L846.5 496.78L848.78 499.06L851.06 496.78L848.78 494.5L851.06 492.22L848.78 489.94L846.5 492.22L844.22 489.94L841.94 492.22L844.22 494.5L841.94 496.78Z"/><path d="M847.22 499.06L849.5 496.78L851.78 499.06L854.06 496.78L851.78 494.5L854.06 492.22L851.78 489.94L849.5 492.22L847.22 489.94L844.94 492.22L847.22 494.5L844.94 496.78Z"/><path d="M849.22 499.06L851.5 496.78L853.78 499.06L856.06 496.78L853.78 494.5L856.06 492.22L853.78 489.94L851.5 492.22L849.22 489.94L846.94 492.22L849.22 494.5L846.94 496.78Z"/><path d="M851.22 499.06L853.5 496.78L855.78 499.06L858.06 496.78L855.78 494.5L858.06 492.22L855.78 489.94L853.5 492.22L851.22 489.94L848.94 492.22L851.22 494.5L848.94 496.78Z"/><path d="M857.22 499.06L859.5 496.78L861.78 499.06L864.06 496.78L861.78 494.5L864.06 492.22L861.78 489.94L859.5 492.22L857.22 489.94L854.94 492.22L857.22 494.5L854.94 496.78Z"/><path d="M862.22 499.06L864.5 496.78L866.78 499.06L869.06 496.78L866.78 494.5L869.06 492.22L866.78 489.94L864.5 492.22L862.22 489.94L859.94 492.22L862.22 494.5L859.94 496.78Z"/><path d="M864.22 499.06L866.5 496.78L868.78 499.06L871.06 496.78L868.78 494.5L871.06 492.22L868.78 489.94L866.5 492.22L864.22 489.94L861.94 492.22L864.22 494.5L861.94 496.78Z"/><path d="M866.22 499.06L868.5 496.78L870.78 499.06L873.06 496.78L870.78 494.5L873.06 492.22L870.78 489.94L868.5 492.22L866.22 489.94L863.94 492.22L866.22 494.5L863.94 496.78Z"/><path d="M867.22 499.06L869.5 496.78L871.78 499.06L874.06 496.78L871.78 494.5L874.06 492.22L871.78 489.94L869.5 492.22L867.22 489.94L864.94 492.22L867.22 494.5L864.94 496.78Z"/><path d="M869.22 499.06L871.5 496.78L873.78 499.06L876.06 496.78L873.78 494.5L876.06 492.22L873.78 489.94L871.5 492.22L869.22 489.94L866.94 492.22L869.22 494.5L866.94 496.78Z"/><path d="M871.22 499.06L873.5 496.78L875.78 499.06L878.06 496.78L875.78 494.5L878.06 492.22L875.78 489.94L873.5 492.22L871.22 489.94L868.94 492.22L871.22 494.5L868.94 496.78Z"/><path d="M873.22 499.06L875.5 496.78L877.78 499.06L880.06 496.78L877.78 494.5L880.06 492.22L877.78 489.94L875.5 492.22L873.22 489.94L870.94 492.22L873.22 494.5L870.94 496.78Z"/><path d="M874.22 499.06L876.5 496.78L878.78 499.06L881.06 496.78L878.78 494.5L881.06 492.22L878.78 489.94L876.5 492.22L874.22 489.94L871.94 492.22L874.22 494.5L871.94 496.78Z"/><path d="M876.22 499.06L878.5 496.78L880.78 499.06L883.06 496.78L880.78 494.5L883.06 492.22L880.78 489.94L878.5 492.22L876.22 489.94L873.94 492.22L876.22 494.5L873.94 496.78Z"/><path d="M878.22 499.06L880.5 496.78L882.78 499.06L885.06 496.78L882.78 494.5L885.06 492.22L882.78 489.94L880.5 492.22L878.22 489.94L875.94 492.22L878.22 494.5L875.94 496.78Z"/><path d="M880.22 499.06L882.5 496.78L884.78 499.06L887.06 496.78L884.78 494.5L887.06 492.22L884.78 489.94L882.5 492.22L880.22 489.94L877.94 492.22L880.22 494.5L877.94 496.78Z"/><path d="M882.22 499.06L884.5 496.78L886.78 499.06L889.06 496.78L886.78 494.5L889.06 492.22L886.78 489.94L884.5 492.22L882.22 489.94L879.94 492.22L882.22 494.5L879.94 496.78Z"/><path d="M883.22 499.06L885.5 496.78L887.78 499.06L890.06 496.78L887.78 494.5L890.06 492.22L887.78 489.94L885.5 492.22L883.22 489.94L880.94 492.22L883.22 494.5L880.94 496.78Z"/><path d="M886.22 499.06L888.5 496.78L890.78 499.06L893.06 496.78L890.78 494.5L893.06 492.22L890.78 489.94L888.5 492.22L886.22 489.94L883.94 492.22L886.22 494.5L883.94 496.78Z"/><path d="M887.22 499.06L889.5 496.78L891.78 499.06L894.06 496.78L891.78 494.5L894.06 492.22L891.78 489.94L889.5 492.22L887.22 489.94L884.94 492.22L887.22 494.5L884.94 496.78Z"/><path d="M889.22 499.06L891.5 496.78L893.78 499.06L896.06 496.78L893.78 494.5L896.06 492.22L893.78 489.94L891.5 492.22L889.22 489.94L886.94 492.22L889.22 494.5L886.94 496.78Z"/><path d="M890.22 499.06L892.5 496.78L894.78 499.06L897.06 496.78L894.78 494.5L897.06 492.22L894.78 489.94L892.5 492.22L890.22 489.94L887.94 492.22L890.22 494.5L887.94 496.78Z"/><path d="M891.22 499.06L893.5 496.78L895.78 499.06L898.06 496.78L895.78 494.5L898.06 492.22L895.78 489.94L893.5 492.22L891.22 489.94L888.94 492.22L891.22 494.5L888.94 496.78Z"/><path d="M892.22 499.06L894.5 496.78L896.78 499.06L899.06 496.78L896.78 494.5L899.06 492.22L896.78 489.94L894.5 492.22L892.22 489.94L889.94 492.22L892.22 494.5L889.94 496.78Z"/><path d="M894.22 499.06L896.5 496.78L898.78 499.06L901.06 496.78L898.78 494.5L901.06 492.22L898.78 489.94L896.5 492.22L894.22 489.94L891.94 492.22L894.22 494.5L891.94 496.78Z"/><path d="M895.22 499.06L897.5 496.78L899.78 499.06L902.06 496.78L899.78 494.5L902.06 492.22L899.78 489.94L897.5 492.22L895.22 489.94L892.94 492.22L895.22 494.5L892.94 496.78Z"/><path d="M897.22 499.06L899.5 496.78L901.78 499.06L904.06 496.78L901.78 494.5L904.06 492.22L901.78 489.94L899.5 492.22L897.22 489.94L894.94 492.22L897.22 494.5L894.94 496.78Z"/><path d="M899.22 499.06L901.5 496.78L903.78 499.06L906.06 496.78L903.78 494.5L906.06 492.22L903.78 489.94L901.5 492.22L899.22 489.94L896.94 492.22L899.22 494.5L896.94 496.78Z"/><path d="M901.22 499.06L903.5 496.78L905.78 499.06L908.06 496.78L905.78 494.5L908.06 492.22L905.78 489.94L903.5 492.22L901.22 489.94L898.94 492.22L901.22 494.5L898.94 496.78Z"/><path d="M903.22 499.06L905.5 496.78L907.78 499.06L910.06 496.78L907.78 494.5L910.06 492.22L907.78 489.94L905.5 492.22L903.22 489.94L900.94 492.22L903.22 494.5L900.94 496.78Z"/><path d="M904.22 499.06L906.5 496.78L908.78 499.06L911.06 496.78L908.78 494.5L911.06 492.22L908.78 489.94L906.5 492.22L904.22 489.94L901.94 492.22L904.22 494.5L901.94 496.78Z"/><path d="M905.22 499.06L907.5 496.78L909.78 499.06L912.06 496.78L909.78 494.5L912.06 492.22L909.78 489.94L907.5 492.22L905.22 489.94L902.94 492.22L905.22 494.5L902.94 496.78Z"/><path d="M907.22 499.06L909.5 496.78L911.78 499.06L914.06 496.78L911.78 494.5L914.06 492.22L911.78 489.94L909.5 492.22L907.22 489.94L904.94 492.22L907.22 494.5L904.94 496.78Z"/><path d="M908.22 499.06L910.5 496.78L912.78 499.06L915.06 496.78L912.78 494.5L915.06 492.22L912.78 489.94L910.5 492.22L908.22 489.94L905.94 492.22L908.22 494.5L905.94 496.78Z"/><path d="M909.22 499.06L911.5 496.78L913.78 499.06L916.06 496.78L913.78 494.5L916.06 492.22L913.78 489.94L911.5 492.22L909.22 489.94L906.94 492.22L909.22 494.5L906.94 496.78Z"/><path d="M910.22 499.06L912.5 496.78L914.78 499.06L917.06 496.78L914.78 494.5L917.06 492.22L914.78 489.94L912.5 492.22L910.22 489.94L907.94 492.22L910.22 494.5L907.94 496.78Z"/><path d="M912.22 499.06L914.5 496.78L916.78 499.06L919.06 496.78L916.78 494.5L919.06 492.22L916.78 489.94L914.5 492.22L912.22 489.94L909.94 492.22L912.22 494.5L909.94 496.78Z"/><path d="M914.22 499.06L916.5 496.78L918.78 499.06L921.06 496.78L918.78 494.5L921.06 492.22L918.78 489.94L916.5 492.22L914.22 489.94L911.94 492.22L914.22 494.5L911.94 496.78Z"/><path d="M916.22 499.06L918.5 496.78L920.78 499.06L923.06 496.78L920.78 494.5L923.06 492.22L920.78 489.94L918.5 492.22L916.22 489.94L913.94 492.22L916.22 494.5L913.94 496.78Z"/><path d="M918.22 499.06L920.5 496.78L922.78 499.06L925.06 496.78L922.78 494.5L925.06 492.22L922.78 489.94L920.5 492.22L918.22 489.94L915.94 492.22L918.22 494.5L915.94 496.78Z"/><path d="M920.22 499.06L922.5 496.78L924.78 499.06L927.06 496.78L924.78 494.5L927.06 492.22L924.78 489.94L922.5 492.22L920.22 489.94L917.94 492.22L920.22 494.5L917.94 496.78Z"/><path d="M925.22 499.06L927.5 496.78L929.78 499.06L932.06 496.78L929.78 494.5L932.06 492.22L929.78 489.94L927.5 492.22L925.22 489.94L922.94 492.22L925.22 494.5L922.94 496.78Z"/><path d="M927.22 499.06L929.5 496.78L931.78 499.06L934.06 496.78L931.78 494.5L934.06 492.22L931.78 489.94L929.5 492.22L927.22 489.94L924.94 492.22L927.22 494.5L924.94 496.78Z"/><path d="M928.22 499.06L930.5 496.78L932.78 499.06L935.06 496.78L932.78 494.5L935.06 492.22L932.78 489.94L930.5 492.22L928.22 489.94L925.94 492.22L928.22 494.5L925.94 496.78Z"/><path d="M929.22 499.06L931.5 496.78L933.78 499.06L936.06 496.78L933.78 494.5L936.06 492.22L933.78 489.94L931.5 492.22L929.22 489.94L926.94 492.22L929.22 494.5L926.94 496.78Z"/><path d="M931.22 499.06L933.5 496.78L935.78 499.06L938.06 496.78L935.78 494.5L938.06 492.22L935.78 489.94L933.5 492.22L931.22 489.94L928.94 492.22L931.22 494.5L928.94 496.78Z"/><path d="M932.22 499.06L934.5 496.78L936.78 499.06L939.06 496.78L936.78 494.5L939.06 492.22L936.78 489.94L934.5 492.22L932.22 489.94L929.94 492.22L932.22 494.5L929.94 496.78Z"/><path d="M934.22 499.06L936.5 496.78L938.78 499.06L941.06 496.78L938.78 494.5L941.06 492.22L938.78 489.94L936.5 492.22L934.22 489.94L931.94 492.22L934.22 494.5L931.94 496.78Z"/><path d="M936.22 499.06L938.5 496.78L940.78 499.06L943.06 496.78L940.78 494.5L943.06 492.22L940.78 489.94L938.5 492.22L936.22 489.94L933.94 492.22L936.22 494.5L933.94 496.78Z"/><path d="M937.22 499.06L939.5 496.78L941.78 499.06L944.06 496.78L941.78 494.5L944.06 492.22L941.78 489.94L939.5 492.22L937.22 489.94L934.94 492.22L937.22 494.5L934.94 496.78Z"/><path d="M939.22 499.06L941.5 496.78L943.78 499.06L946.06 496.78L943.78 494.5L946.06 492.22L943.78 489.94L941.5 492.22L939.22 489.94L936.94 492.22L939.22 494.5L936.94 496.78Z"/><path d="M940.22 499.06L942.5 496.78L944.78 499.06L947.06 496.78L944.78 494.5L947.06 492.22L944.78 489.94L942.5 492.22L940.22 489.94L937.94 492.22L940.22 494.5L937.94 496.78Z"/><path d="M941.22 499.06L943.5 496.78L945.78 499.06L948.06 496.78L945.78 494.5L948.06 492.22L945.78 489.94L943.5 492.22L941.22 489.94L938.94 492.22L941.22 494.5L938.94 496.78Z"/><path d="M942.22 499.06L944.5 496.78L946.78 499.06L949.06 496.78L946.78 494.5L949.06 492.22L946.78 489.94L944.5 492.22L942.22 489.94L939.94 492.22L942.22 494.5L939.94 496.78Z"/><path d="M943.22 499.06L945.5 496.78L947.78 499.06L950.06 496.78L947.78 494.5L950.06 492.22L947.78 489.94L945.5 492.22L943.22 489.94L940.94 492.22L943.22 494.5L940.94 496.78Z"/><path d="M944.22 499.06L946.5 496.78L948.78 499.06L951.06 496.78L948.78 494.5L951.06 492.22L948.78 489.94L946.5 492.22L944.22 489.94L941.94 492.22L944.22 494.5L941.94 496.78Z"/><path d="M945.22 499.06L947.5 496.78L949.78 499.06L952.06 496.78L949.78 494.5L952.06 492.22L949.78 489.94L947.5 492.22L945.22 489.94L942.94 492.22L945.22 494.5L942.94 496.78Z"/><path d="M946.22 499.06L948.5 496.78L950.78 499.06L953.06 496.78L950.78 494.5L953.06 492.22L950.78 489.94L948.5 492.22L946.22 489.94L943.94 492.22L946.22 494.5L943.94 496.78Z"/><path d="M948.22 499.06L950.5 496.78L952.78 499.06L955.06 496.78L952.78 494.5L955.06 492.22L952.78 489.94L950.5 492.22L948.22 489.94L945.94 492.22L948.22 494.5L945.94 496.78Z"/><path d="M950.22 499.06L952.5 496.78L954.78 499.06L957.06 496.78L954.78 494.5L957.06 492.22L954.78 489.94L952.5 492.22L950.22 489.94L947.94 492.22L950.22 494.5L947.94 496.78Z"/><path d="M952.22 499.06L954.5 496.78L956.78 499.06L959.06 496.78L956.78 494.5L959.06 492.22L956.78 489.94L954.5 492.22L952.22 489.94L949.94 492.22L952.22 494.5L949.94 496.78Z"/><path d="M953.22 499.06L955.5 496.78L957.78 499.06L960.06 496.78L957.78 494.5L960.06 492.22L957.78 489.94L955.5 492.22L953.22 489.94L950.94 492.22L953.22 494.5L950.94 496.78Z"/><path d="M955.22 499.06L957.5 496.78L959.78 499.06L962.06 496.78L959.78 494.5L962.06 492.22L959.78 489.94L957.5 492.22L955.22 489.94L952.94 492.22L955.22 494.5L952.94 496.78Z"/><path d="M956.22 499.06L958.5 496.78L960.78 499.06L963.06 496.78L960.78 494.5L963.06 492.22L960.78 489.94L958.5 492.22L956.22 489.94L953.94 492.22L956.22 494.5L953.94 496.78Z"/><path d="M957.22 499.06L959.5 496.78L961.78 499.06L964.06 496.78L961.78 494.5L964.06 492.22L961.78 489.94L959.5 492.22L957.22 489.94L954.94 492.22L957.22 494.5L954.94 496.78Z"/><path d="M958.22 499.06L960.5 496.78L962.78 499.06L965.06 496.78L962.78 494.5L965.06 492.22L962.78 489.94L960.5 492.22L958.22 489.94L955.94 492.22L958.22 494.5L955.94 496.78Z"/><path d="M960.22 499.06L962.5 496.78L964.78 499.06L967.06 496.78L964.78 494.5L967.06 492.22L964.78 489.94L962.5 492.22L960.22 489.94L957.94 492.22L960.22 494.5L957.94 496.78Z"/><path d="M962.22 499.06L964.5 496.78L966.78 499.06L969.06 496.78L966.78 494.5L969.06 492.22L966.78 489.94L964.5 492.22L962.22 489.94L959.94 492.22L962.22 494.5L959.94 496.78Z"/><path d="M964.22 499.06L966.5 496.78L968.78 499.06L971.06 496.78L968.78 494.5L971.06 492.22L968.78 489.94L966.5 492.22L964.22 489.94L961.94 492.22L964.22 494.5L961.94 496.78Z"/><path d="M965.22 499.06L967.5 496.78L969.78 499.06L972.06 496.78L969.78 494.5L972.06 492.22L969.78 489.94L967.5 492.22L965.22 489.94L962.94 492.22L965.22 494.5L962.94 496.78Z"/><path d="M967.22 499.06L969.5 496.78L971.78 499.06L974.06 496.78L971.78 494.5L974.06 492.22L971.78 489.94L969.5 492.22L967.22 489.94L964.94 492.22L967.22 494.5L964.94 496.78Z"/><path d="M969.22 499.06L971.5 496.78L973.78 499.06L976.06 496.78L973.78 494.5L976.06 492.22L973.78 489.94L971.5 492.22L969.22 489.94L966.94 492.22L969.22 494.5L966.94 496.78Z"/><path d="M971.22 499.06L973.5 496.78L975.78 499.06L978.06 496.78L975.78 494.5L978.06 492.22L975.78 489.94L973.5 492.22L971.22 489.94L968.94 492.22L971.22 494.5L968.94 496.78Z"/><path d="M973.22 499.06L975.5 496.78L977.78 499.06L980.06 496.78L977.78 494.5L980.06 492.22L977.78 489.94L975.5 492.22L973.22 489.94L970.94 492.22L973.22 494.5L970.94 496.78Z"/><path d="M974.22 499.06L976.5 496.78L978.78 499.06L981.06 496.78L978.78 494.5L981.06 492.22L978.78 489.94L976.5 492.22L974.22 489.94L971.94 492.22L974.22 494.5L971.94 496.78Z"/><path d="M976.22 499.06L978.5 496.78L980.78 499.06L983.06 496.78L980.78 494.5L983.06 492.22L980.78 489.94L978.5 492.22L976.22 489.94L973.94 492.22L976.22 494.5L973.94 496.78Z"/><path d="M977.22 499.06L979.5 496.78L981.78 499.06L984.06 496.78L981.78 494.5L984.06 492.22L981.78 489.94L979.5 492.22L977.22 489.94L974.94 492.22L977.22 494.5L974.94 496.78Z"/><path d="M979.22 499.06L981.5 496.78L983.78 499.06L986.06 496.78L983.78 494.5L986.06 492.22L983.78 489.94L981.5 492.22L979.22 489.94L976.94 492.22L979.22 494.5L976.94 496.78Z"/><path d="M981.22 499.06L983.5 496.78L985.78 499.06L988.06 496.78L985.78 494.5L988.06 492.22L985.78 489.94L983.5 492.22L981.22 489.94L978.94 492.22L981.22 494.5L978.94 496.78Z"/><path d="M982.22 499.06L984.5 496.78L986.78 499.06L989.06 496.78L986.78 494.5L989.06 492.22L986.78 489.94L984.5 492.22L982.22 489.94L979.94 492.22L982.22 494.5L979.94 496.78Z"/><path d="M984.22 499.06L986.5 496.78L988.78 499.06L991.06 496.78L988.78 494.5L991.06 492.22L988.78 489.94L986.5 492.22L984.22 489.94L981.94 492.22L984.22 494.5L981.94 496.78Z"/><path d="M985.22 499.06L987.5 496.78L989.78 499.06L992.06 496.78L989.78 494.5L992.06 492.22L989.78 489.94L987.5 492.22L985.22 489.94L982.94 492.22L985.22 494.5L982.94 496.78Z"/><path d="M986.22 499.06L988.5 496.78L990.78 499.06L993.06 496.78L990.78 494.5L993.06 492.22L990.78 489.94L988.5 492.22L986.22 489.94L983.94 492.22L986.22 494.5L983.94 496.78Z"/><path d="M987.22 499.06L989.5 496.78L991.78 499.06L994.06 496.78L991.78 494.5L994.06 492.22L991.78 489.94L989.5 492.22L987.22 489.94L984.94 492.22L987.22 494.5L984.94 496.78Z"/><path d="M988.22 499.06L990.5 496.78L992.78 499.06L995.06 496.78L992.78 494.5L995.06 492.22L992.78 489.94L990.5 492.22L988.22 489.94L985.94 492.22L988.22 494.5L985.94 496.78Z"/><path d="M989.22 499.06L991.5 496.78L993.78 499.06L996.06 496.78L993.78 494.5L996.06 492.22L993.78 489.94L991.5 492.22L989.22 489.94L986.94 492.22L989.22 494.5L986.94 496.78Z"/><path d="M991.22 499.06L993.5 496.78L995.78 499.06L998.06 496.78L995.78 494.5L998.06 492.22L995.78 489.94L993.5 492.22L991.22 489.94L988.94 492.22L991.22 494.5L988.94 496.78Z"/><path d="M992.22 499.06L994.5 496.78L996.78 499.06L999.06 496.78L996.78 494.5L999.06 492.22L996.78 489.94L994.5 492.22L992.22 489.94L989.94 492.22L992.22 494.5L989.94 496.78Z"/><path d="M993.22 499.06L995.5 496.78L997.78 499.06L1000.06 496.78L997.78 494.5L1000.06 492.22L997.78 489.94L995.5 492.22L993.22 489.94L990.94 492.22L993.22 494.5L990.94 496.78Z"/><path d="M995.22 499.06L997.5 496.78L999.78 499.06L1002.06 496.78L999.78 494.5L1002.06 492.22L999.78 489.94L997.5 492.22L995.22 489.94L992.94 492.22L995.22 494.5L992.94 496.78Z"/></g>
<g class="d"><path d="M112.5 499.5L116.5 499.5L116.5 496.5L119.5 496.5L119.5 492.5L116.5 492.5L116.5 489.5L112.5 489.5L112.5 492.5L109.5 492.5L109.5 496.5L112.5 496.5Z"/><path d="M155.5 493.5L159.5 493.5L159.5 490.5L162.5 490.5L162.5 486.5L159.5 486.5L159.5 483.5L155.5 483.5L155.5 486.5L152.5 486.5L152.5 490.5L155.5 490.5Z"/><path d="M165.5 499.5L169.5 499.5L169.5 496.5L172.5 496.5L172.5 492.5L169.5 492.5L169.5 489.5L165.5 489.5L165.5 492.5L162.5 492.5L162.5 496.5L165.5 496.5Z"/><path d="M256.5 499.5L260.5 499.5L260.5 496.5L263.5 496.5L263.5 492.5L260.5 492.5L260.5 489.5L256.5 489.5L256.5 492.5L253.5 492.5L253.5 496.5L256.5 496.5Z"/><path d="M299.5 499.5L303.5 499.5L303.5 496.5L306.5 496.5L306.5 492.5L303.5 492.5L303.5 489.5L299.5 489.5L299.5 492.5L296.5 492.5L296.5 496.5L299.5 496.5Z"/><path d="M343.5 499.5L347.5 499.5L347.5 496.5L350.5 496.5L350.5 492.5L347.5 492.5L347.5 489.5L343.5 489.5L343.5 492.5L340.5 492.5L340.5 496.5L343.5 496.5Z"/><path d="M364.5 499.5L368.5 499.5L368.5 496.5L371.5 496.5L371.5 492.5L368.5 492.5L368.5 489.5L364.5 489.5L364.5 492.5L361.5 492.5L361.5 496.5L364.5 496.5Z"/><path d="M416.5 499.5L420.5 499.5L420.5 496.5L423.5 496.5L423.5 492.5L420.5 492.5L420.5 489.5L416.5 489.5L416.5 492.5L413.5 492.5L413.5 496.5L416.5 496.5Z"/><path d="M419.5 499.5L423.5 499.5L423.5 496.5L426.5 496.5L426.5 492.5L423.5 492.5L423.5 489.5L419.5 489.5L419.5 492.5L416.5 492.5L416.5 496.5L419.5 496.5Z"/><path d="M438.5 499.5L442.5 499.5L442.5 496.5L445.5 496.5L445.5 492.5L442.5 492.5L442.5 489.5L438.5 489.5L438.5 492.5L435.5 492.5L435.5 496.5L438.5 496.5Z"/><path d="M493.5 499.5L497.5 499.5L497.5 496.5L500.5 496.5L500.5 492.5L497.5 492.5L497.5 489.5L493.5 489.5L493.5 492.5L490.5 492.5L490.5 496.5L493.5 496.5Z"/><path d="M495.5 499.5L499.5 499.5L499.5 496.5L502.5 496.5L502.5 492.5L499.5 492.5L499.5 489.5L495.5 489.5L495.5 492.5L492.5 492.5L492.5 496.5L495.5 496.5Z"/><path d="M496.5 499.5L500.5 499.5L500.5 496.5L503.5 496.5L503.5 492.5L500.5 492.5L500.5 489.5L496.5 489.5L496.5 492.5L493.5 492.5L493.5 496.5L496.5 496.5Z"/><path d="M498.5 499.5L502.5 499.5L502.5 496.5L505.5 496.5L505.5 492.5L502.5 492.5L502.5 489.5L498.5 489.5L498.5 492.5L495.5 492.5L495.5 496.5L498.5 496.5Z"/><path d="M504.5 499.5L508.5 499.5L508.5 496.5L511.5 496.5L511.5 492.5L508.5 492.5L508.5 489.5L504.5 489.5L504.5 492.5L501.5 492.5L501.5 496.5L504.5 496.5Z"/><path d="M507.5 499.5L511.5 499.5L511.5 496.5L514.5 496.5L514.5 492.5L511.5 492.5L511.5 489.5L507.5 489.5L507.5 492.5L504.5 492.5L504.5 496.5L507.5 496.5Z"/><path d="M508.5 499.5L512.5 499.5L512.5 496.5L515.5 496.5L515.5 492.5L512.5 492.5L512.5 489.5L508.5 489.5L508.5 492.5L505.5 492.5L505.5 496.5L508.5 496.5Z"/><path d="M512.5 499.5L516.5 499.5L516.5 496.5L519.5 496.5L519.5 492.5L516.5 492.5L516.5 489.5L512.5 489.5L512.5 492.5L509.5 492.5L509.5 496.5L512.5 496.5Z"/><path d="M514.5 499.5L518.5 499.5L518.5 496.5L521.5 496.5L521.5 492.5L518.5 492.5L518.5 489.5L514.5 489.5L514.5 492.5L511.5 492.5L511.5 496.5L514.5 496.5Z"/><path d="M524.5 499.5L528.5 499.5L528.5 496.5L531.5 496.5L531.5 492.5L528.5 492.5L528.5 489.5L524.5 489.5L524.5 492.5L521.5 492.5L521.5 496.5L524.5 496.5Z"/><path d="M528.5 499.5L532.5 499.5L532.5 496.5L535.5 496.5L535.5 492.5L532.5 492.5L532.5 489.5L528.5 489.5L528.5 492.5L525.5 492.5L525.5 496.5L528.5 496.5Z"/><path d="M533.5 499.5L537.5 499.5L537.5 496.5L540.5 496.5L540.5 492.5L537.5 492.5L537.5 489.5L533.5 489.5L533.5 492.5L530.5 492.5L530.5 496.5L533.5 496.5Z"/><path d="M535.5 499.5L539.5 499.5L539.5 496.5L542.5 496.5L542.5 492.5L539.5 492.5L539.5 489.5L535.5 489.5L535.5 492.5L532.5 492.5L532.5 496.5L535.5 496.5Z"/><path d="M542.5 499.5L546.5 499.5L546.5 496.5L549.5 496.5L549.5 492.5L546.5 492.5L546.5 489.5L542.5 489.5L542.5 492.5L539.5 492.5L539.5 496.5L542.5 496.5Z"/><path d="M545.5 499.5L549.5 499.5L549.5 496.5L552.5 496.5L552.5 492.5L549.5 492.5L549.5 489.5L545.5 489.5L545.5 492.5L542.5 492.5L542.5 496.5L545.5 496.5Z"/><path d="M551.5 499.5L555.5 499.5L555.5 496.5L558.5 496.5L558.5 492.5L555.5 492.5L555.5 489.5L551.5 489.5L551.5 492.5L548.5 492.5L548.5 496.5L551.5 496.5Z"/><path d="M555.5 499.5L559.5 499.5L559.5 496.5L562.5 496.5L562.5 492.5L559.5 492.5L559.5 489.5L555.5 489.5L555.5 492.5L552.5 492.5L552.5 496.5L555.5 496.5Z"/><path d="M563.5 499.5L567.5 499.5L567.5 496.5L570.5 496.5L570.5 492.5L567.5 492.5L567.5 489.5L563.5 489.5L563.5 492.5L560.5 492.5L560.5 496.5L563.5 496.5Z"/><path d="M565.5 499.5L569.5 499.5L569.5 496.5L572.5 496.5L572.5 492.5L569.5 492.5L569.5 489.5L565.5 489.5L565.5 492.5L562.5 492.5L562.5 496.5L565.5 496.5Z"/><path d="M575.5 499.5L579.5 499.5L579.5 496.5L582.5 496.5L582.5 492.5L579.5 492.5L579.5 489.5L575.5 489.5L575.5 492.5L572.5 492.5L572.5 496.5L575.5 496.5Z"/><path d="M586.5 499.5L590.5 499.5L590.5 496.5L593.5 496.5L593.5 492.5L590.5 492.5L590.5 489.5L586.5 489.5L586.5 492.5L583.5 492.5L583.5 496.5L586.5 496.5Z"/><path d="M589.5 499.5L593.5 499.5L593.5 496.5L596.5 496.5L596.5 492.5L593.5 492.5L593.5 489.5L589.5 489.5L589.5 492.5L586.5 492.5L586.5 496.5L589.5 496.5Z"/><path d="M591.5 499.5L595.5 499.5L595.5 496.5L598.5 496.5L598.5 492.5L595.5 492.5L595.5 489.5L591.5 489.5L591.5 492.5L588.5 492.5L588.5 496.5L591.5 496.5Z"/><path d="M598.5 499.5L602.5 499.5L602.5 496.5L605.5 496.5L605.5 492.5L602.5 492.5L602.5 489.5L598.5 489.5L598.5 492.5L595.5 492.5L595.5 496.5L598.5 496.5Z"/><path d="M600.5 499.5L604.5 499.5L604.5 496.5L607.5 496.5L607.5 492.5L604.5 492.5L604.5 489.5L600.5 489.5L600.5 492.5L597.5 492.5L597.5 496.5L600.5 496.5Z"/><path d="M603.5 499.5L607.5 499.5L607.5 496.5L610.5 496.5L610.5 492.5L607.5 492.5L607.5 489.5L603.5 489.5L603.5 492.5L600.5 492.5L600.5 496.5L603.5 496.5Z"/><path d="M615.5 499.5L619.5 499.5L619.5 496.5L622.5 496.5L622.5 492.5L619.5 492.5L619.5 489.5L615.5 489.5L615.5 492.5L612.5 492.5L612.5 496.5L615.5 496.5Z"/><path d="M618.5 499.5L622.5 499.5L622.5 496.5L625.5 496.5L625.5 492.5L622.5 492.5L622.5 489.5L618.5 489.5L618.5 492.5L615.5 492.5L615.5 496.5L618.5 496.5Z"/><path d="M620.5 499.5L624.5 499.5L624.5 496.5L627.5 496.5L627.5 492.5L624.5 492.5L624.5 489.5L620.5 489.5L620.5 492.5L617.5 492.5L617.5 496.5L620.5 496.5Z"/><path d="M624.5 499.5L628.5 499.5L628.5 496.5L631.5 496.5L631.5 492.5L628.5 492.5L628.5 489.5L624.5 489.5L624.5 492.5L621.5 492.5L621.5 496.5L624.5 496.5Z"/><path d="M625.5 499.5L629.5 499.5L629.5 496.5L632.5 496.5L632.5 492.5L629.5 492.5L629.5 489.5L625.5 489.5L625.5 492.5L622.5 492.5L622.5 496.5L625.5 496.5Z"/><path d="M633.5 499.5L637.5 499.5L637.5 496.5L640.5 496.5L640.5 492.5L637.5 492.5L637.5 489.5L633.5 489.5L633.5 492.5L630.5 492.5L630.5 496.5L633.5 496.5Z"/><path d="M637.5 499.5L641.5 499.5L641.5 496.5L644.5 496.5L644.5 492.5L641.5 492.5L641.5 489.5L637.5 489.5L637.5 492.5L634.5 492.5L634.5 496.5L637.5 496.5Z"/><path d="M642.5 499.5L646.5 499.5L646.5 496.5L649.5 496.5L649.5 492.5L646.5 492.5L646.5 489.5L642.5 489.5L642.5 492.5L639.5 492.5L639.5 496.5L642.5 496.5Z"/><path d="M644.5 499.5L648.5 499.5L648.5 496.5L651.5 496.5L651.5 492.5L648.5 492.5L648.5 489.5L644.5 489.5L644.5 492.5L641.5 492.5L641.5 496.5L644.5 496.5Z"/><path d="M646.5 499.5L650.5 499.5L650.5 496.5L653.5 496.5L653.5 492.5L650.5 492.5L650.5 489.5L646.5 489.5L646.5 492.5L643.5 492.5L643.5 496.5L646.5 496.5Z"/><path d="M661.5 499.5L665.5 499.5L665.5 496.5L668.5 496.5L668.5 492.5L665.5 492.5L665.5 489.5L661.5 489.5L661.5 492.5L658.5 492.5L658.5 496.5L661.5 496.5Z"/><path d="M668.5 499.5L672.5 499.5L672.5 496.5L675.5 496.5L675.5 492.5L672.5 492.5L672.5 489.5L668.5 489.5L668.5 492.5L665.5 492.5L665.5 496.5L668.5 496.5Z"/><path d="M683.5 499.5L687.5 499.5L687.5 496.5L690.5 496.5L690.5 492.5L687.5 492.5L687.5 489.5L683.5 489.5L683.5 492.5L680.5 492.5L680.5 496.5L683.5 496.5Z"/><path d="M689.5 499.5L693.5 499.5L693.5 496.5L696.5 496.5L696.5 492.5L693.5 492.5L693.5 489.5L689.5 489.5L689.5 492.5L686.5 492.5L686.5 496.5L689.5 496.5Z"/><path d="M698.5 499.5L702.5 499.5L702.5 496.5L705.5 496.5L705.5 492.5L702.5 492.5L702.5 489.5L698.5 489.5L698.5 492.5L695.5 492.5L695.5 496.5L698.5 496.5Z"/><path d="M700.5 499.5L704.5 499.5L704.5 496.5L707.5 496.5L707.5 492.5L704.5 492.5L704.5 489.5L700.5 489.5L700.5 492.5L697.5 492.5L697.5 496.5L700.5 496.5Z"/><path d="M712.5 499.5L716.5 499.5L716.5 496.5L719.5 496.5L719.5 492.5L716.5 492.5L716.5 489.5L712.5 489.5L712.5 492.5L709.5 492.5L709.5 496.5L712.5 496.5Z"/><path d="M718.5 499.5L722.5 499.5L722.5 496.5L725.5 496.5L725.5 492.5L722.5 492.5L722.5 489.5L718.5 489.5L718.5 492.5L715.5 492.5L715.5 496.5L718.5 496.5Z"/><path d="M724.5 499.5L728.5 499.5L728.5 496.5L731.5 496.5L731.5 492.5L728.5 492.5L728.5 489.5L724.5 489.5L724.5 492.5L721.5 492.5L721.5 496.5L724.5 496.5Z"/><path d="M727.5 499.5L731.5 499.5L731.5 496.5L734.5 496.5L734.5 492.5L731.5 492.5L731.5 489.5L727.5 489.5L727.5 492.5L724.5 492.5L724.5 496.5L727.5 496.5Z"/><path d="M733.5 499.5L737.5 499.5L737.5 496.5L740.5 496.5L740.5 492.5L737.5 492.5L737.5 489.5L733.5 489.5L733.5 492.5L730.5 492.5L730.5 496.5L733.5 496.5Z"/><path d="M734.5 499.5L738.5 499.5L738.5 496.5L741.5 496.5L741.5 492.5L738.5 492.5L738.5 489.5L734.5 489.5L734.5 492.5L731.5 492.5L731.5 496.5L734.5 496.5Z"/><path d="M758.5 499.5L762.5 499.5L762.5 496.5L765.5 496.5L765.5 492.5L762.5 492.5L762.5 489.5L758.5 489.5L758.5 492.5L755.5 492.5L755.5 496.5L758.5 496.5Z"/><path d="M764.5 499.5L768.5 499.5L768.5 496.5L771.5 496.5L771.5 492.5L768.5 492.5L768.5 489.5L764.5 489.5L764.5 492.5L761.5 492.5L761.5 496.5L764.5 496.5Z"/><path d="M768.5 499.5L772.5 499.5L772.5 496.5L775.5 496.5L775.5 492.5L772.5 492.5L772.5 489.5L768.5 489.5L768.5 492.5L765.5 492.5L765.5 496.5L768.5 496.5Z"/><path d="M777.5 499.5L781.5 499.5L781.5 496.5L784.5 496.5L784.5 492.5L781.5 492.5L781.5 489.5L777.5 489.5L777.5 492.5L774.5 492.5L774.5 496.5L777.5 496.5Z"/><path d="M784.5 499.5L788.5 499.5L788.5 496.5L791.5 496.5L791.5 492.5L788.5 492.5L788.5 489.5L784.5 489.5L784.5 492.5L781.5 492.5L781.5 496.5L784.5 496.5Z"/><path d="M786.5 499.5L790.5 499.5L790.5 496.5L793.5 496.5L793.5 492.5L790.5 492.5L790.5 489.5L786.5 489.5L786.5 492.5L783.5 492.5L783.5 496.5L786.5 496.5Z"/><path d="M788.5 499.5L792.5 499.5L792.5 496.5L795.5 496.5L795.5 492.5L792.5 492.5L792.5 489.5L788.5 489.5L788.5 492.5L785.5 492.5L785.5 496.5L788.5 496.5Z"/><path d="M790.5 499.5L794.5 499.5L794.5 496.5L797.5 496.5L797.5 492.5L794.5 492.5L794.5 489.5L790.5 489.5L790.5 492.5L787.5 492.5L787.5 496.5L790.5 496.5Z"/><path d="M792.5 499.5L796.5 499.5L796.5 496.5L799.5 496.5L799.5 492.5L796.5 492.5L796.5 489.5L792.5 489.5L792.5 492.5L789.5 492.5L789.5 496.5L792.5 496.5Z"/><path d="M793.5 499.5L797.5 499.5L797.5 496.5L800.5 496.5L800.5 492.5L797.5 492.5L797.5 489.5L793.5 489.5L793.5 492.5L790.5 492.5L790.5 496.5L793.5 496.5Z"/><path d="M796.5 499.5L800.5 499.5L800.5 496.5L803.5 496.5L803.5 492.5L800.5 492.5L800.5 489.5L796.5 489.5L796.5 492.5L793.5 492.5L793.5 496.5L796.5 496.5Z"/><path d="M798.5 499.5L802.5 499.5L802.5 496.5L805.5 496.5L805.5 492.5L802.5 492.5L802.5 489.5L798.5 489.5L798.5 492.5L795.5 492.5L795.5 496.5L798.5 496.5Z"/><path d="M802.5 499.5L806.5 499.5L806.5 496.5L809.5 496.5L809.5 492.5L806.5 492.5L806.5 489.5L802.5 489.5L802.5 492.5L799.5 492.5L799.5 496.5L802.5 496.5Z"/><path d="M804.5 499.5L808.5 499.5L808.5 496.5L811.5 496.5L811.5 492.5L808.5 492.5L808.5 489.5L804.5 489.5L804.5 492.5L801.5 492.5L801.5 496.5L804.5 496.5Z"/><path d="M805.5 499.5L809.5 499.5L809.5 496.5L812.5 496.5L812.5 492.5L809.5 492.5L809.5 489.5L805.5 489.5L805.5 492.5L802.5 492.5L802.5 496.5L805.5 496.5Z"/><path d="M806.5 499.5L810.5 499.5L810.5 496.5L813.5 496.5L813.5 492.5L810.5 492.5L810.5 489.5L806.5 489.5L806.5 492.5L803.5 492.5L803.5 496.5L806.5 496.5Z"/><path d="M808.5 499.5L812.5 499.5L812.5 496.5L815.5 496.5L815.5 492.5L812.5 492.5L812.5 489.5L808.5 489.5L808.5 492.5L805.5 492.5L805.5 496.5L808.5 496.5Z"/><path d="M810.5 499.5L814.5 499.5L814.5 496.5L817.5 496.5L817.5 492.5L814.5 492.5L814.5 489.5L810.5 489.5L810.5 492.5L807.5 492.5L807.5 496.5L810.5 496.5Z"/><path d="M812.5 499.5L816.5 499.5L816.5 496.5L819.5 496.5L819.5 492.5L816.5 492.5L816.5 489.5L812.5 489.5L812.5 492.5L809.5 492.5L809.5 496.5L812.5 496.5Z"/><path d="M814.5 499.5L818.5 499.5L818.5 496.5L821.5 496.5L821.5 492.5L818.5 492.5L818.5 489.5L814.5 489.5L814.5 492.5L811.5 492.5L811.5 496.5L814.5 496.5Z"/><path d="M816.5 499.5L820.5 499.5L820.5 496.5L823.5 496.5L823.5 492.5L820.5 492.5L820.5 489.5L816.5 489.5L816.5 492.5L813.5 492.5L813.5 496.5L816.5 496.5Z"/><path d="M817.5 499.5L821.5 499.5L821.5 496.5L824.5 496.5L824.5 492.5L821.5 492.5L821.5 489.5L817.5 489.5L817.5 492.5L814.5 492.5L814.5 496.5L817.5 496.5Z"/><path d="M821.5 499.5L825.5 499.5L825.5 496.5L828.5 496.5L828.5 492.5L825.5 492.5L825.5 489.5L821.5 489.5L821.5 492.5L818.5 492.5L818.5 496.5L821.5 496.5Z"/><path d="M823.5 499.5L827.5 499.5L827.5 496.5L830.5 496.5L830.5 492.5L827.5 492.5L827.5 489.5L823.5 489.5L823.5 492.5L820.5 492.5L820.5 496.5L823.5 496.5Z"/><path d="M825.5 499.5L829.5 499.5L829.5 496.5L832.5 496.5L832.5 492.5L829.5 492.5L829.5 489.5L825.5 489.5L825.5 492.5L822.5 492.5L822.5 496.5L825.5 496.5Z"/><path d="M826.5 499.5L830.5 499.5L830.5 496.5L833.5 496.5L833.5 492.5L830.5 492.5L830.5 489.5L826.5 489.5L826.5 492.5L823.5 492.5L823.5 496.5L826.5 496.5Z"/><path d="M828.5 499.5L832.5 499.5L832.5 496.5L835.5 496.5L835.5 492.5L832.5 492.5L832.5 489.5L828.5 489.5L828.5 492.5L825.5 492.5L825.5 496.5L828.5 496.5Z"/><path d="M830.5 499.5L834.5 499.5L834.5 496.5L837.5 496.5L837.5 492.5L834.5 492.5L834.5 489.5L830.5 489.5L830.5 492.5L827.5 492.5L827.5 496.5L830.5 496.5Z"/><path d="M835.5 499.5L839.5 499.5L839.5 496.5L842.5 496.5L842.5 492.5L839.5 492.5L839.5 489.5L835.5 489.5L835.5 492.5L832.5 492.5L832.5 496.5L835.5 496.5Z"/><path d="M836.5 499.5L840.5 499.5L840.5 496.5L843.5 496.5L843.5 492.5L840.5 492.5L840.5 489.5L836.5 489.5L836.5 492.5L833.5 492.5L833.5 496.5L836.5 496.5Z"/><path d="M838.5 499.5L842.5 499.5L842.5 496.5L845.5 496.5L845.5 492.5L842.5 492.5L842.5 489.5L838.5 489.5L838.5 492.5L835.5 492.5L835.5 496.5L838.5 496.5Z"/><path d="M840.5 499.5L844.5 499.5L844.5 496.5L847.5 496.5L847.5 492.5L844.5 492.5L844.5 489.5L840.5 489.5L840.5 492.5L837.5 492.5L837.5 496.5L840.5 496.5Z"/><path d="M841.5 499.5L845.5 499.5L845.5 496.5L848.5 496.5L848.5 492.5L845.5 492.5L845.5 489.5L841.5 489.5L841.5 492.5L838.5 492.5L838.5 496.5L841.5 496.5Z"/><path d="M843.5 499.5L847.5 499.5L847.5 496.5L850.5 496.5L850.5 492.5L847.5 492.5L847.5 489.5L843.5 489.5L843.5 492.5L840.5 492.5L840.5 496.5L843.5 496.5Z"/><path d="M844.5 499.5L848.5 499.5L848.5 496.5L851.5 496.5L851.5 492.5L848.5 492.5L848.5 489.5L844.5 489.5L844.5 492.5L841.5 492.5L841.5 496.5L844.5 496.5Z"/><path d="M847.5 499.5L851.5 499.5L851.5 496.5L854.5 496.5L854.5 492.5L851.5 492.5L851.5 489.5L847.5 489.5L847.5 492.5L844.5 492.5L844.5 496.5L847.5 496.5Z"/><path d="M849.5 499.5L853.5 499.5L853.5 496.5L856.5 496.5L856.5 492.5L853.5 492.5L853.5 489.5L849.5 489.5L849.5 492.5L846.5 492.5L846.5 496.5L849.5 496.5Z"/><path d="M851.5 499.5L855.5 499.5L855.5 496.5L858.5 496.5L858.5 492.5L855.5 492.5L855.5 489.5L851.5 489.5L851.5 492.5L848.5 492.5L848.5 496.5L851.5 496.5Z"/><path d="M857.5 499.5L861.5 499.5L861.5 496.5L864.5 496.5L864.5 492.5L861.5 492.5L861.5 489.5L857.5 489.5L857.5 492.5L854.5 492.5L854.5 496.5L857.5 496.5Z"/><path d="M862.5 499.5L866.5 499.5L866.5 496.5L869.5 496.5L869.5 492.5L866.5 492.5L866.5 489.5L862.5 489.5L862.5 492.5L859.5 492.5L859.5 496.5L862.5 496.5Z"/><path d="M864.5 499.5L868.5 499.5L868.5 496.5L871.5 496.5L871.5 492.5L868.5 492.5L868.5 489.5L864.5 489.5L864.5 492.5L861.5 492.5L861.5 496.5L864.5 496.5Z"/><path d="M866.5 499.5L870.5 499.5L870.5 496.5L873.5 496.5L873.5 492.5L870.5 492.5L870.5 489.5L866.5 489.5L866.5 492.5L863.5 492.5L863.5 496.5L866.5 496.5Z"/><path d="M867.5 499.5L871.5 499.5L871.5 496.5L874.5 496.5L874.5 492.5L871.5 492.5L871.5 489.5L867.5 489.5L867.5 492.5L864.5 492.5L864.5 496.5L867.5 496.5Z"/><path d="M869.5 499.5L873.5 499.5L873.5 496.5L876.5 496.5L876.5 492.5L873.5 492.5L873.5 489.5L869.5 489.5L869.5 492.5L866.5 492.5L866.5 496.5L869.5 496.5Z"/><path d="M871.5 499.5L875.5 499.5L875.5 496.5L878.5 496.5L878.5 492.5L875.5 492.5L875.5 489.5L871.5 489.5L871.5 492.5L868.5 492.5L868.5 496.5L871.5 496.5Z"/><path d="M873.5 499.5L877.5 499.5L877.5 496.5L880.5 496.5L880.5 492.5L877.5 492.5L877.5 489.5L873.5 489.5L873.5 492.5L870.5 492.5L870.5 496.5L873.5 496.5Z"/><path d="M874.5 499.5L878.5 499.5L878.5 496.5L881.5 496.5L881.5 492.5L878.5 492.5L878.5 489.5L874.5 489.5L874.5 492.5L871.5 492.5L871.5 496.5L874.5 496.5Z"/><path d="M876.5 499.5L880.5 499.5L880.5 496.5L883.5 496.5L883.5 492.5L880.5 492.5L880.5 489.5L876.5 489.5L876.5 492.5L873.5 492.5L873.5 496.5L876.5 496.5Z"/><path d="M878.5 499.5L882.5 499.5L882.5 496.5L885.5 496.5L885.5 492.5L882.5 492.5L882.5 489.5L878.5 489.5L878.5 492.5L875.5 492.5L875.5 496.5L878.5 496.5Z"/><path d="M880.5 499.5L884.5 499.5L884.5 496.5L887.5 496.5L887.5 492.5L884.5 492.5L884.5 489.5L880.5 489.5L880.5 492.5L877.5 492.5L877.5 496.5L880.5 496.5Z"/><path d="M882.5 499.5L886.5 499.5L886.5 496.5L889.5 496.5L889.5 492.5L886.5 492.5L886.5 489.5L882.5 489.5L882.5 492.5L879.5 492.5L879.5 496.5L882.5 496.5Z"/><path d="M883.5 499.5L887.5 499.5L887.5 496.5L890.5 496.5L890.5 492.5L887.5 492.5L887.5 489.5L883.5 489.5L883.5 492.5L880.5 492.5L880.5 496.5L883.5 496.5Z"/><path d="M886.5 499.5L890.5 499.5L890.5 496.5L893.5 496.5L893.5 492.5L890.5 492.5L890.5 489.5L886.5 489.5L886.5 492.5L883.5 492.5L883.5 496.5L886.5 496.5Z"/><path d="M887.5 499.5L891.5 499.5L891.5 496.5L894.5 496.5L894.5 492.5L891.5 492.5L891.5 489.5L887.5 489.5L887.5 492.5L884.5 492.5L884.5 496.5L887.5 496.5Z"/><path d="M889.5 499.5L893.5 499.5L893.5 496.5L896.5 496.5L896.5 492.5L893.5 492.5L893.5 489.5L889.5 489.5L889.5 492.5L886.5 492.5L886.5 496.5L889.5 496.5Z"/><path d="M890.5 499.5L894.5 499.5L894.5 496.5L897.5 496.5L897.5 492.5L894.5 492.5L894.5 489.5L890.5 489.5L890.5 492.5L887.5 492.5L887.5 496.5L890.5 496.5Z"/><path d="M891.5 499.5L895.5 499.5L895.5 496.5L898.5 496.5L898.5 492.5L895.5 492.5L895.5 489.5L891.5 489.5L891.5 492.5L888.5 492.5L888.5 496.5L891.5 496.5Z"/><path d="M892.5 499.5L896.5 499.5L896.5 496.5L899.5 496.5L899.5 492.5L896.5 492.5L896.5 489.5L892.5 489.5L892.5 492.5L889.5 492.5L889.5 496.5L892.5 496.5Z"/><path d="M894.5 499.5L898.5 499.5L898.5 496.5L901.5 496.5L901.5 492.5L898.5 492.5L898.5 489.5L894.5 489.5L894.5 492.5L891.5 492.5L891.5 496.5L894.5 496.5Z"/><path d="M895.5 499.5L899.5 499.5L899.5 496.5L902.5 496.5L902.5 492.5L899.5 492.5L899.5 489.5L895.5 489.5L895.5 492.5L892.5 492.5L892.5 496.5L895.5 496.5Z"/><path d="M897.5 499.5L901.5 499.5L901.5 496.5L904.5 496.5L904.5 492.5L901.5 492.5L901.5 489.5L897.5 489.5L897.5 492.5L894.5 492.5L894.5 496.5L897.5 496.5Z"/><path d="M899.5 499.5L903.5 499.5L903.5 496.5L906.5 496.5L906.5 492.5L903.5 492.5L903.5 489.5L899.5 489.5L899.5 492.5L896.5 492.5L896.5 496.5L899.5 496.5Z"/><path d="M901.5 499.5L905.5 499.5L905.5 496.5L908.5 496.5L908.5 492.5L905.5 492.5L905.5 489.5L901.5 489.5L901.5 492.5L898.5 492.5L898.5 496.5L901.5 496.5Z"/><path d="M903.5 499.5L907.5 499.5L907.5 496.5L910.5 496.5L910.5 492.5L907.5 492.5L907.5 489.5L903.5 489.5L903.5 492.5L900.5 492.5L900.5 496.5L903.5 496.5Z"/><path d="M904.5 499.5L908.5 499.5L908.5 496.5L911.5 496.5L911.5 492.5L908.5 492.5L908.5 489.5L904.5 489.5L904.5 492.5L901.5 492.5L901.5 496.5L904.5 496.5Z"/><path d="M905.5 499.5L909.5 499.5L909.5 496.5L912.5 496.5L912.5 492.5L909.5 492.5L909.5 489.5L905.5 489.5L905.5 492.5L902.5 492.5L902.5 496.5L905.5 496.5Z"/><path d="M907.5 499.5L911.5 499.5L911.5 496.5L914.5 496.5L914.5 492.5L911.5 492.5L911.5 489.5L907.5 489.5L907.5 492.5L904.5 492.5L904.5 496.5L907.5 496.5Z"/><path d="M908.5 499.5L912.5 499.5L912.5 496.5L915.5 496.5L915.5 492.5L912.5 492.5L912.5 489.5L908.5 489.5L908.5 492.5L905.5 492.5L905.5 496.5L908.5 496.5Z"/><path d="M909.5 499.5L913.5 499.5L913.5 496.5L916.5 496.5L916.5 492.5L913.5 492.5L913.5 489.5L909.5 489.5L909.5 492.5L906.5 492.5L906.5 496.5L909.5 496.5Z"/><path d="M910.5 499.5L914.5 499.5L914.5 496.5L917.5 496.5L917.5 492.5L914.5 492.5L914.5 489.5L910.5 489.5L910.5 492.5L907.5 492.5L907.5 496.5L910.5 496.5Z"/><path d="M912.5 499.5L916.5 499.5L916.5 496.5L919.5 496.5L919.5 492.5L916.5 492.5L916.5 489.5L912.5 489.5L912.5 492.5L909.5 492.5L909.5 496.5L912.5 496.5Z"/><path d="M914.5 499.5L918.5 499.5L918.5 496.5L921.5 496.5L921.5 492.5L918.5 492.5L918.5 489.5L914.5 489.5L914.5 492.5L911.5 492.5L911.5 496.5L914.5 496.5Z"/><path d="M916.5 499.5L920.5 499.5L920.5 496.5L923.5 496.5L923.5 492.5L920.5 492.5L920.5 489.5L916.5 489.5L916.5 492.5L913.5 492.5L913.5 496.5L916.5 496.5Z"/><path d="M918.5 499.5L922.5 499.5L922.5 496.5L925.5 496.5L925.5 492.5L922.5 492.5L922.5 489.5L918.5 489.5L918.5 492.5L915.5 492.5L915.5 496.5L918.5 496.5Z"/><path d="M920.5 499.5L924.5 499.5L924.5 496.5L927.5 496.5L927.5 492.5L924.5 492.5L924.5 489.5L920.5 489.5L920.5 492.5L917.5 492.5L917.5 496.5L920.5 496.5Z"/><path d="M925.5 499.5L929.5 499.5L929.5 496.5L932.5 496.5L932.5 492.5L929.5 492.5L929.5 489.5L925.5 489.5L925.5 492.5L922.5 492.5L922.5 496.5L925.5 496.5Z"/><path d="M927.5 499.5L931.5 499.5L931.5 496.5L934.5 496.5L934.5 492.5L931.5 492.5L931.5 489.5L927.5 489.5L927.5 492.5L924.5 492.5L924.5 496.5L927.5 496.5Z"/><path d="M928.5 499.5L932.5 499.5L932.5 496.5L935.5 496.5L935.5 492.5L932.5 492.5L932.5 489.5L928.5 489.5L928.5 492.5L925.5 492.5L925.5 496.5L928.5 496.5Z"/><path d="M929.5 499.5L933.5 499.5L933.5 496.5L936.5 496.5L936.5 492.5L933.5 492.5L933.5 489.5L929.5 489.5L929.5 492.5L926.5 492.5L926.5 496.5L929.5 496.5Z"/><path d="M931.5 499.5L935.5 499.5L935.5 496.5L938.5 496.5L938.5 492.5L935.5 492.5L935.5 489.5L931.5 489.5L931.5 492.5L928.5 492.5L928.5 496.5L931.5 496.5Z"/><path d="M932.5 499.5L936.5 499.5L936.5 496.5L939.5 496.5L939.5 492.5L936.5 492.5L936.5 489.5L932.5 489.5L932.5 492.5L929.5 492.5L929.5 496.5L932.5 496.5Z"/><path d="M934.5 499.5L938.5 499.5L938.5 496.5L941.5 496.5L941.5 492.5L938.5 492.5L938.5 489.5L934.5 489.5L934.5 492.5L931.5 492.5L931.5 496.5L934.5 496.5Z"/><path d="M936.5 499.5L940.5 499.5L940.5 496.5L943.5 496.5L943.5 492.5L940.5 492.5L940.5 489.5L936.5 489.5L936.5 492.5L933.5 492.5L933.5 496.5L936.5 496.5Z"/><path d="M937.5 499.5L941.5 499.5L941.5 496.5L944.5 496.5L944.5 492.5L941.5 492.5L941.5 489.5L937.5 489.5L937.5 492.5L934.5 492.5L934.5 496.5L937.5 496.5Z"/><path d="M939.5 499.5L943.5 499.5L943.5 496.5L946.5 496.5L946.5 492.5L943.5 492.5L943.5 489.5L939.5 489.5L939.5 492.5L936.5 492.5L936.5 496.5L939.5 496.5Z"/><path d="M940.5 499.5L944.5 499.5L944.5 496.5L947.5 496.5L947.5 492.5L944.5 492.5L944.5 489.5L940.5 489.5L940.5 492.5L937.5 492.5L937.5 496.5L940.5 496.5Z"/><path d="M941.5 499.5L945.5 499.5L945.5 496.5L948.5 496.5L948.5 492.5L945.5 492.5L945.5 489.5L941.5 489.5L941.5 492.5L938.5 492.5L938.5 496.5L941.5 496.5Z"/><path d="M942.5 499.5L946.5 499.5L946.5 496.5L949.5 496.5L949.5 492.5L946.5 492.5L946.5 489.5L942.5 489.5L942.5 492.5L939.5 492.5L939.5 496.5L942.5 496.5Z"/><path d="M943.5 499.5L947.5 499.5L947.5 496.5L950.5 496.5L950.5 492.5L947.5 492.5L947.5 489.5L943.5 489.5L943.5 492.5L940.5 492.5L940.5 496.5L943.5 496.5Z"/><path d="M944.5 499.5L948.5 499.5L948.5 496.5L951.5 496.5L951.5 492.5L948.5 492.5L948.5 489.5L944.5 489.5L944.5 492.5L941.5 492.5L941.5 496.5L944.5 496.5Z"/><path d="M945.5 499.5L949.5 499.5L949.5 496.5L952.5 496.5L952.5 492.5L949.5 492.5L949.5 489.5L945.5 489.5L945.5 492.5L942.5 492.5L942.5 496.5L945.5 496.5Z"/><path d="M946.5 499.5L950.5 499.5L950.5 496.5L953.5 496.5L953.5 492.5L950.5 492.5L950.5 489.5L946.5 489.5L946.5 492.5L943.5 492.5L943.5 496.5L946.5 496.5Z"/><path d="M948.5 499.5L952.5 499.5L952.5 496.5L955.5 496.5L955.5 492.5L952.5 492.5L952.5 489.5L948.5 489.5L948.5 492.5L945.5 492.5L945.5 496.5L948.5 496.5Z"/><path d="M950.5 499.5L954.5 499.5L954.5 496.5L957.5 496.5L957.5 492.5L954.5 492.5L954.5 489.5L950.5 489.5L950.5 492.5L947.5 492.5L947.5 496.5L950.5 496.5Z"/><path d="M952.5 499.5L956.5 499.5L956.5 496.5L959.5 496.5L959.5 492.5L956.5 492.5L956.5 489.5L952.5 489.5L952.5 492.5L949.5 492.5L949.5 496.5L952.5 496.5Z"/><path d="M953.5 499.5L957.5 499.5L957.5 496.5L960.5 496.5L960.5 492.5L957.5 492.5L957.5 489.5L953.5 489.5L953.5 492.5L950.5 492.5L950.5 496.5L953.5 496.5Z"/><path d="M955.5 499.5L959.5 499.5L959.5 496.5L962.5 496.5L962.5 492.5L959.5 492.5L959.5 489.5L955.5 489.5L955.5 492.5L952.5 492.5L952.5 496.5L955.5 496.5Z"/><path d="M956.5 499.5L960.5 499.5L960.5 496.5L963.5 496.5L963.5 492.5L960.5 492.5L960.5 489.5L956.5 489.5L956.5 492.5L953.5 492.5L953.5 496.5L956.5 496.5Z"/><path d="M957.5 499.5L961.5 499.5L961.5 496.5L964.5 496.5L964.5 492.5L961.5 492.5L961.5 489.5L957.5 489.5L957.5 492.5L954.5 492.5L954.5 496.5L957.5 496.5Z"/><path d="M958.5 499.5L962.5 499.5L962.5 496.5L965.5 496.5L965.5 492.5L962.5 492.5L962.5 489.5L958.5 489.5L958.5 492.5L955.5 492.5L955.5 496.5L958.5 496.5Z"/><path d="M960.5 499.5L964.5 499.5L964.5 496.5L967.5 496.5L967.5 492.5L964.5 492.5L964.5 489.5L960.5 489.5L960.5 492.5L957.5 492.5L957.5 496.5L960.5 496.5Z"/><path d="M962.5 499.5L966.5 499.5L966.5 496.5L969.5 496.5L969.5 492.5L966.5 492.5L966.5 489.5L962.5 489.5L962.5 492.5L959.5 492.5L959.5 496.5L962.5 496.5Z"/><path d="M964.5 499.5L968.5 499.5L968.5 496.5L971.5 496.5L971.5 492.5L968.5 492.5L968.5 489.5L964.5 489.5L964.5 492.5L961.5 492.5L961.5 496.5L964.5 496.5Z"/><path d="M965.5 499.5L969.5 499.5L969.5 496.5L972.5 496.5L972.5 492.5L969.5 492.5L969.5 489.5L965.5 489.5L965.5 492.5L962.5 492.5L962.5 496.5L965.5 496.5Z"/><path d="M967.5 499.5L971.5 499.5L971.5 496.5L974.5 496.5L974.5 492.5L971.5 492.5L971.5 489.5L967.5 489.5L967.5 492.5L964.5 492.5L964.5 496.5L967.5 496.5Z"/><path d="M969.5 499.5L973.5 499.5L973.5 496.5L976.5 496.5L976.5 492.5L973.5 492.5L973.5 489.5L969.5 489.5L969.5 492.5L966.5 492.5L966.5 496.5L969.5 496.5Z"/><path d="M971.5 499.5L975.5 499.5L975.5 496.5L978.5 496.5L978.5 492.5L975.5 492.5L975.5 489.5L971.5 489.5L971.5 492.5L968.5 492.5L968.5 496.5L971.5 496.5Z"/><path d="M973.5 499.5L977.5 499.5L977.5 496.5L980.5 496.5L980.5 492.5L977.5 492.5L977.5 489.5L973.5 489.5L973.5 492.5L970.5 492.5L970.5 496.5L973.5 496.5Z"/><path d="M974.5 499.5L978.5 499.5L978.5 496.5L981.5 496.5L981.5 492.5L978.5 492.5L978.5 489.5L974.5 489.5L974.5 492.5L971.5 492.5L971.5 496.5L974.5 496.5Z"/><path d="M976.5 499.5L980.5 499.5L980.5 496.5L983.5 496.5L983.5 492.5L980.5 492.5L980.5 489.5L976.5 489.5L976.5 492.5L973.5 492.5L973.5 496.5L976.5 496.5Z"/><path d="M977.5 499.5L981.5 499.5L981.5 496.5L984.5 496.5L984.5 492.5L981.5 492.5L981.5 489.5L977.5 489.5L977.5 492.5L974.5 492.5L974.5 496.5L977.5 496.5Z"/><path d="M979.5 499.5L983.5 499.5L983.5 496.5L986.5 496.5L986.5 492.5L983.5 492.5L983.5 489.5L979.5 489.5L979.5 492.5L976.5 492.5L976.5 496.5L979.5 496.5Z"/><path d="M981.5 499.5L985.5 499.5L985.5 496.5L988.5 496.5L988.5 492.5L985.5 492.5L985.5 489.5L981.5 489.5L981.5 492.5L978.5 492.5L978.5 496.5L981.5 496.5Z"/><path d="M982.5 499.5L986.5 499.5L986.5 496.5L989.5 496.5L989.5 492.5L986.5 492.5L986.5 489.5L982.5 489.5L982.5 492.5L979.5 492.5L979.5 496.5L982.5 496.5Z"/><path d="M984.5 499.5L988.5 499.5L988.5 496.5L991.5 496.5L991.5 492.5L988.5 492.5L988.5 489.5L984.5 489.5L984.5 492.5L981.5 492.5L981.5 496.5L984.5 496.5Z"/><path d="M985.5 499.5L989.5 499.5L989.5 496.5L992.5 496.5L992.5 492.5L989.5 492.5L989.5 489.5L985.5 489.5L985.5 492.5L982.5 492.5L982.5 496.5L985.5 496.5Z"/><path d="M986.5 499.5L990.5 499.5L990.5 496.5L993.5 496.5L993.5 492.5L990.5 492.5L990.5 489.5L986.5 489.5L986.5 492.5L983.5 492.5L983.5 496.5L986.5 496.5Z"/><path d="M987.5 499.5L991.5 499.5L991.5 496.5L994.5 496.5L994.5 492.5L991.5 492.5L991.5 489.5L987.5 489.5L987.5 492.5L984.5 492.5L984.5 496.5L987.5 496.5Z"/><path d="M988.5 499.5L992.5 499.5L992.5 496.5L995.5 496.5L995.5 492.5L992.5 492.5L992.5 489.5L988.5 489.5L988.5 492.5L985.5 492.5L985.5 496.5L988.5 496.5Z"/><path d="M989.5 499.5L993.5 499.5L993.5 496.5L996.5 496.5L996.5 492.5L993.5 492.5L993.5 489.5L989.5 489.5L989.5 492.5L986.5 492.5L986.5 496.5L989.5 496.5Z"/><path d="M991.5 499.5L995.5 499.5L995.5 496.5L998.5 496.5L998.5 492.5L995.5 492.5L995.5 489.5L991.5 489.5L991.5 492.5L988.5 492.5L988.5 496.5L991.5 496.5Z"/><path d="M992.5 499.5L996.5 499.5L996.5 496.5L999.5 496.5L999.5 492.5L996.5 492.5L996.5 489.5L992.5 489.5L992.5 492.5L989.5 492.5L989.5 496.5L992.5 496.5Z"/><path d="M993.5 499.5L997.5 499.5L997.5 496.5L1000.5 496.5L1000.5 492.5L997.5 492.5L997.5 489.5L993.5 489.5L993.5 492.5L990.5 492.5L990.5 496.5L993.5 496.5Z"/><path d="M995.5 499.5L999.5 499.5L999.5 496.5L1002.5 496.5L1002.5 492.5L999.5 492.5L999.5 489.5L995.5 489.5L995.5 492.5L992.5 492.5L992.5 496.5L995.5 496.5Z"/></g>
<g class="e"><circle cx="114.5" cy="421.5" r="4.56"/><circle cx="167.5" cy="433.5" r="4.56"/><circle cx="258.5" cy="432.5" r="4.56"/><circle cx="301.5" cy="465.5" r="4.56"/><circle cx="345.5" cy="429.5" r="4.56"/><circle cx="418.5" cy="469.5" r="4.56"/><circle cx="440.5" cy="494.5" r="4.56"/><circle cx="498.5" cy="476.5" r="4.56"/><circle cx="506.5" cy="481.5" r="4.56"/><circle cx="509.5" cy="457.5" r="4.56"/><circle cx="510.5" cy="479.5" r="4.56"/><circle cx="514.5" cy="480.5" r="4.56"/><circle cx="516.5" cy="469.5" r="4.56"/><circle cx="526.5" cy="466.5" r="4.56"/><circle cx="528.5" cy="494.5" r="4.56"/><circle cx="530.5" cy="480.5" r="4.56"/><circle cx="537.5" cy="489.5" r="4.56"/><circle cx="547.5" cy="479.5" r="4.56"/><circle cx="553.5" cy="494.5" r="4.56"/><circle cx="559.5" cy="463.5" r="4.56"/><circle cx="565.5" cy="490.5" r="4.56"/><circle cx="588.5" cy="494.5" r="4.56"/><circle cx="591.5" cy="482.5" r="4.56"/><circle cx="595.5" cy="491.5" r="4.56"/><circle cx="605.5" cy="494.5" r="4.56"/><circle cx="622.5" cy="494.5" r="4.56"/><circle cx="639.5" cy="494.5" r="4.56"/><circle cx="700.5" cy="494.5" r="4.56"/><circle cx="736.5" cy="494.5" r="4.56"/><circle cx="770.5" cy="494.5" r="4.56"/><circle cx="786.5" cy="494.5" r="4.56"/><circle cx="788.5" cy="494.5" r="4.56"/><circle cx="790.5" cy="494.5" r="4.56"/><circle cx="792.5" cy="494.5" r="4.56"/><circle cx="794.5" cy="494.5" r="4.56"/><circle cx="796.5" cy="494.5" r="4.56"/><circle cx="798.5" cy="494.5" r="4.56"/><circle cx="800.5" cy="494.5" r="4.56"/><circle cx="802.5" cy="494.5" r="4.56"/><circle cx="804.5" cy="494.5" r="4.56"/><circle cx="806.5" cy="494.5" r="4.56"/><circle cx="808.5" cy="494.5" r="4.56"/><circle cx="810.5" cy="494.5" r="4.56"/><circle cx="812.5" cy="494.5" r="4.56"/><circle cx="814.5" cy="494.5" r="4.56"/><circle cx="816.5" cy="494.5" r="4.56"/><circle cx="818.5" cy="494.5" r="4.56"/><circle cx="821.5" cy="494.5" r="4.56"/><circle cx="823.5" cy="494.5" r="4.56"/><circle cx="825.5" cy="494.5" r="4.56"/><circle cx="828.5" cy="494.5" r="4.56"/><circle cx="830.5" cy="494.5" r="4.56"/><circle cx="832.5" cy="494.5" r="4.56"/><circle cx="835.5" cy="494.5" r="4.56"/><circle cx="837.5" cy="494.5" r="4.56"/><circle cx="838.5" cy="494.5" r="4.56"/><circle cx="840.5" cy="494.5" r="4.56"/><circle cx="842.5" cy="494.5" r="4.56"/><circle cx="845.5" cy="494.5" r="4.56"/><circle cx="847.5" cy="494.5" r="4.56"/><circle cx="849.5" cy="494.5" r="4.56"/><circle cx="851.5" cy="494.5" r="4.56"/><circle cx="853.5" cy="494.5" r="4.56"/><circle cx="856.5" cy="494.5" r="4.56"/><circle cx="857.5" cy="494.5" r="4.56"/><circle cx="859.5" cy="494.5" r="4.56"/><circle cx="861.5" cy="494.5" r="4.56"/><circle cx="862.5" cy="494.5" r="4.56"/><circle cx="864.5" cy="494.5" r="4.56"/><circle cx="866.5" cy="494.5" r="4.56"/><circle cx="868.5" cy="494.5" r="4.56"/><circle cx="869.5" cy="494.5" r="4.56"/><circle cx="871.5" cy="494.5" r="4.56"/><circle cx="873.5" cy="494.5" r="4.56"/><circle cx="875.5" cy="494.5" r="4.56"/><circle cx="876.5" cy="494.5" r="4.56"/><circle cx="878.5" cy="494.5" r="4.56"/><circle cx="880.5" cy="494.5" r="4.56"/><circle cx="882.5" cy="494.5" r="4.56"/><circle cx="884.5" cy="494.5" r="4.56"/><circle cx="885.5" cy="494.5" r="4.56"/><circle cx="888.5" cy="494.5" r="4.56"/><circle cx="889.5" cy="494.5" r="4.56"/><circle cx="891.5" cy="494.5" r="4.56"/><circle cx="893.5" cy="494.5" r="4.56"/><circle cx="894.5" cy="494.5" r="4.56"/><circle cx="896.5" cy="494.5" r="4.56"/><circle cx="897.5" cy="494.5" r="4.56"/><circle cx="899.5" cy="494.5" r="4.56"/><circle cx="901.5" cy="494.5" r="4.56"/><circle cx="903.5" cy="494.5" r="4.56"/><circle cx="905.5" cy="494.5" r="4.56"/><circle cx="907.5" cy="494.5" r="4.56"/><circle cx="909.5" cy="494.5" r="4.56"/><circle cx="910.5" cy="494.5" r="4.56"/><circle cx="912.5" cy="494.5" r="4.56"/><circle cx="914.5" cy="494.5" r="4.56"/><circle cx="916.5" cy="494.5" r="4.56"/><circle cx="918.5" cy="494.5" r="4.56"/><circle cx="920.5" cy="494.5" r="4.56"/><circle cx="922.5" cy="494.5" r="4.56"/><circle cx="923.5" cy="494.5" r="4.56"/><circle cx="925.5" cy="494.5" r="4.56"/><circle cx="927.5" cy="494.5" r="4.56"/><circle cx="929.5" cy="494.5" r="4.56"/><circle cx="931.5" cy="494.5" r="4.56"/><circle cx="933.5" cy="494.5" r="4.56"/><circle cx="934.5" cy="494.5" r="4.56"/><circle cx="936.5" cy="494.5" r="4.56"/><circle cx="938.5" cy="494.5" r="4.56"/><circle cx="939.5" cy="494.5" r="4.56"/><circle cx="941.5" cy="494.5" r="4.56"/><circle cx="942.5" cy="494.5" r="4.56"/><circle cx="943.5" cy="494.5" r="4.56"/><circle cx="945.5" cy="494.5" r="4.56"/><circle cx="947.5" cy="494.5" r="4.56"/><circle cx="948.5" cy="494.5" r="4.56"/><circle cx="950.5" cy="494.5" r="4.56"/><circle cx="952.5" cy="494.5" r="4.56"/><circle cx="954.5" cy="494.5" r="4.56"/><circle cx="955.5" cy="494.5" r="4.56"/></g>
<g class="s"><path d="M157.5 360.94L152.94 370.06L162.06 370.06Z"/><path d="M366.5 489.94L361.94 499.06L371.06 499.06Z"/><path d="M421.5 489.94L416.94 499.06L426.06 499.06Z"/><path d="M495.5 489.94L490.94 499.06L500.06 499.06Z"/><path d="M497.5 489.94L492.94 499.06L502.06 499.06Z"/><path d="M500.5 489.94L495.94 499.06L505.06 499.06Z"/><path d="M526.5 484.94L521.94 494.06L531.06 494.06Z"/><path d="M535.5 489.94L530.94 499.06L540.06 499.06Z"/><path d="M544.5 489.94L539.94 499.06L549.06 499.06Z"/><path d="M549.5 489.94L544.94 499.06L554.06 499.06Z"/><path d="M557.5 489.94L552.94 499.06L562.06 499.06Z"/><path d="M567.5 489.94L562.94 499.06L572.06 499.06Z"/><path d="M577.5 489.94L572.94 499.06L582.06 499.06Z"/><path d="M593.5 489.94L588.94 499.06L598.06 499.06Z"/><path d="M600.5 489.94L595.94 499.06L605.06 499.06Z"/><path d="M617.5 489.94L612.94 499.06L622.06 499.06Z"/><path d="M620.5 489.94L615.94 499.06L625.06 499.06Z"/><path d="M626.5 489.94L621.94 499.06L631.06 499.06Z"/><path d="M627.5 489.94L622.94 499.06L632.06 499.06Z"/><path d="M635.5 489.94L630.94 499.06L640.06 499.06Z"/><path d="M644.5 489.94L639.94 499.06L649.06 499.06Z"/><path d="M646.5 489.94L641.94 499.06L651.06 499.06Z"/><path d="M648.5 489.94L643.94 499.06L653.06 499.06Z"/><path d="M663.5 489.94L658.94 499.06L668.06 499.06Z"/><path d="M670.5 489.94L665.94 499.06L675.06 499.06Z"/><path d="M685.5 489.94L680.94 499.06L690.06 499.06Z"/><path d="M691.5 489.94L686.94 499.06L696.06 499.06Z"/><path d="M702.5 489.94L697.94 499.06L707.06 499.06Z"/><path d="M714.5 489.94L709.94 499.06L719.06 499.06Z"/><path d="M720.5 489.94L715.94 499.06L725.06 499.06Z"/><path d="M726.5 489.94L721.94 499.06L731.06 499.06Z"/><path d="M729.5 489.94L724.94 499.06L734.06 499.06Z"/><path d="M735.5 489.94L730.94 499.06L740.06 499.06Z"/><path d="M760.5 489.94L755.94 499.06L765.06 499.06Z"/><path d="M766.5 489.94L761.94 499.06L771.06 499.06Z"/><path d="M779.5 489.94L774.94 499.06L784.06 499.06Z"/><path d="M792.5 489.94L787.94 499.06L797.06 499.06Z"/><path d="M795.5 489.94L790.94 499.06L800.06 499.06Z"/><path d="M802.5 489.94L797.94 499.06L807.06 499.06Z"/><path d="M807.5 489.94L802.94 499.06L812.06 499.06Z"/><path d="M812.5 489.94L807.94 499.06L817.06 499.06Z"/><path d="M816.5 489.94L811.94 499.06L821.06 499.06Z"/><path d="M819.5 489.94L814.94 499.06L824.06 499.06Z"/><path d="M827.5 489.94L822.94 499.06L832.06 499.06Z"/><path d="M840.5 489.94L835.94 499.06L845.06 499.06Z"/><path d="M843.5 489.94L838.94 499.06L848.06 499.06Z"/><path d="M846.5 489.94L841.94 499.06L851.06 499.06Z"/><path d="M853.5 489.94L848.94 499.06L858.06 499.06Z"/><path d="M871.5 489.94L866.94 499.06L876.06 499.06Z"/><path d="M873.5 489.94L868.94 499.06L878.06 499.06Z"/><path d="M876.5 489.94L871.94 499.06L881.06 499.06Z"/><path d="M880.5 489.94L875.94 499.06L885.06 499.06Z"/><path d="M885.5 489.94L880.94 499.06L890.06 499.06Z"/><path d="M888.5 489.94L883.94 499.06L893.06 499.06Z"/><path d="M892.5 489.94L887.94 499.06L897.06 499.06Z"/><path d="M899.5 489.94L894.94 499.06L904.06 499.06Z"/><path d="M903.5 489.94L898.94 499.06L908.06 499.06Z"/><path d="M906.5 489.94L901.94 499.06L911.06 499.06Z"/><path d="M911.5 489.94L906.94 499.06L916.06 499.06Z"/><path d="M914.5 489.94L909.94 499.06L919.06 499.06Z"/><path d="M918.5 489.94L913.94 499.06L923.06 499.06Z"/><path d="M920.5 489.94L915.94 499.06L925.06 499.06Z"/><path d="M927.5 489.94L922.94 499.06L932.06 499.06Z"/><path d="M930.5 489.94L925.94 499.06L935.06 499.06Z"/><path d="M939.5 489.94L934.94 499.06L944.06 499.06Z"/><path d="M944.5 489.94L939.94 499.06L949.06 499.06Z"/><path d="M946.5 489.94L941.94 499.06L951.06 499.06Z"/><path d="M948.5 489.94L943.94 499.06L953.06 499.06Z"/><path d="M955.5 489.94L950.94 499.06L960.06 499.06Z"/><path d="M957.5 489.94L952.94 499.06L962.06 499.06Z"/><path d="M959.5 489.94L954.94 499.06L964.06 499.06Z"/><path d="M964.5 489.94L959.94 499.06L969.06 499.06Z"/><path d="M973.5 489.94L968.94 499.06L978.06 499.06Z"/><path d="M983.5 489.94L978.94 499.06L988.06 499.06Z"/><path d="M988.5 489.94L983.94 499.06L993.06 499.06Z"/><path d="M990.5 489.94L985.94 499.06L995.06 499.06Z"/><path d="M994.5 489.94L989.94 499.06L999.06 499.06Z"/><path d="M1007.5 489.94L1002.94 499.06L1012.06 499.06Z"/><path d="M1011.5 489.94L1006.94 499.06L1016.06 499.06Z"/></g>
</g>
<g class="g">
<line x1="101.5" y1="517.5" x2="101.5" y2="56.5"/><line x1="236.5" y1="517.5" x2="236.5" y2="56.5"/><line x1="331.5" y1="517.5" x2="331.5" y2="56.5"/><line x1="405.5" y1="517.5" x2="405.5" y2="56.5"/><line x1="465.5" y1="517.5" x2="465.5" y2="56.5"/><line x1="516.5" y1="517.5" x2="516.5" y2="56.5"/><line x1="560.5" y1="517.5" x2="560.5" y2="56.5"/><line x1="599.5" y1="517.5" x2="599.5" y2="56.5"/><line x1="634.5" y1="517.5" x2="634.5" y2="56.5"/><line x1="863.5" y1="517.5" x2="863.5" y2="56.5"/><line x1="997.5" y1="517.5" x2="997.5" y2="56.5"/>
<line x1="69.5" y1="494.5" x2="1056.5" y2="494.5"/><line x1="69.5" y1="448.5" x2="1056.5" y2="448.5"/><line x1="69.5" y1="402.5" x2="1056.5" y2="402.5"/><line x1="69.5" y1="356.5" x2="1056.5" y2="356.5"/><line x1="69.5" y1="310.5" x2="1056.5" y2="310.5"/><line x1="69.5" y1="264.5" x2="1056.5" y2="264.5"/><line x1="69.5" y1="218.5" x2="1056.5" y2="218.5"/><line x1="69.5" y1="172.5" x2="1056.5" y2="172.5"/><line x1="69.5" y1="126.5" x2="1056.5" y2="126.5"/><line x1="69.5" y1="80.5" x2="1056.5" y2="80.5"/>
</g>
<g class="k">
<line x1="634.5" y1="517.5" x2="634.5" y2="523.4"/><line class="n" x1="101.5" y1="517.5" x2="101.5" y2="521.4"/><line class="n" x1="236.5" y1="517.5" x2="236.5" y2="521.4"/><line class="n" x1="331.5" y1="517.5" x2="331.5" y2="521.4"/><line class="n" x1="405.5" y1="517.5" x2="405.5" y2="521.4"/><line class="n" x1="465.5" y1="517.5" x2="465.5" y2="521.4"/><line class="n" x1="516.5" y1="517.5" x2="516.5" y2="521.4"/><line class="n" x1="560.5" y1="517.5" x2="560.5" y2="521.4"/><line class="n" x1="599.5" y1="517.5" x2="599.5" y2="521.4"/><line class="n" x1="863.5" y1="517.5" x2="863.5" y2="521.4"/><line class="n" x1="997.5" y1="517.5" x2="997.5" y2="521.4"/>
<line x1="63.6" y1="494.5" x2="69.5" y2="494.5"/><line x1="63.6" y1="448.5" x2="69.5" y2="448.5"/><line x1="63.6" y1="402.5" x2="69.5" y2="402.5"/><line x1="63.6" y1="356.5" x2="69.5" y2="356.5"/><line x1="63.6" y1="310.5" x2="69.5" y2="310.5"/><line x1="63.6" y1="264.5" x2="69.5" y2="264.5"/><line x1="63.6" y1="218.5" x2="69.5" y2="218.5"/><line x1="63.6" y1="172.5" x2="69.5" y2="172.5"/><line x1="63.6" y1="126.5" x2="69.5" y2="126.5"/><line x1="63.6" y1="80.5" x2="69.5" y2="80.5"/>
<rect x="69.5" y="56.5" width="987" height="461" fill="none" stroke="#000" stroke-width="1.333" stroke-linejoin="miter"/>
</g>
<g class="t10" text-anchor="end"><text transform="translate(58.3 501) scale(0.96 1.07)">1</text><text transform="translate(57.3 455) scale(0.96 1.07)">2</text><text transform="translate(57.3 409) scale(0.96 1.07)">3</text><text transform="translate(58.3 363) scale(0.96 1.07)">4</text><text transform="translate(58.3 317) scale(0.96 1.07)">5</text><text transform="translate(57.3 271) scale(0.96 1.07)">6</text><text transform="translate(58.3 225) scale(0.96 1.07)">7</text><text transform="translate(57.3 179) scale(0.96 1.07)">8</text><text transform="translate(57.3 133) scale(0.96 1.07)">9</text><text transform="translate(58.3 87) scale(0.96 1.07)">10</text></g>
<text class="t10" transform="translate(620.25 544.2) scale(0.96 1.07)">10<tspan class="t7" dx="0.5" dy="-6.3">2</tspan></text>
<text class="t11" text-anchor="middle" x="562.5" y="569">Epicentral Distance (km)</text>
<text class="t11" text-anchor="middle" letter-spacing="-.5" transform="translate(27 289.4) rotate(-90)">MMI</text>
<text class="t11" text-anchor="middle" letter-spacing=".026" x="562.2" y="26">M3.7 — 20 km ESE of Silver Springs, Nevada</text>
<text class="t11" text-anchor="middle" x="562.7" y="47">MMI vs Epicentral Distance</text>
<rect x="840" y="64" width="208" height="140" rx="3" ry="3" fill="#fff" fill-opacity=".8" stroke="#ccc" stroke-opacity=".8" stroke-width="1.667"/>
<g class="m"><g class="a"><rect x="856.5" y="73.5" width="10" height="10"/></g><g class="b"><path d="M861.5 95.05L867.95 101.5L861.5 107.95L855.05 101.5Z"/></g><g class="c"><path d="M859.22 128.06L861.5 125.78L863.78 128.06L866.06 125.78L863.78 123.5L866.06 121.22L863.78 118.94L861.5 121.22L859.22 118.94L856.94 121.22L859.22 123.5L856.94 125.78Z"/></g><g class="d"><path d="M859.5 151.5L863.5 151.5L863.5 148.5L866.5 148.5L866.5 144.5L863.5 144.5L863.5 141.5L859.5 141.5L859.5 144.5L856.5 144.5L856.5 148.5L859.5 148.5Z"/></g><g class="e"><circle cx="861.5" cy="168.5" r="4.56"/></g><g class="s"><path d="M861.5 186.94L856.94 196.06L866.06 196.06Z"/></g></g>
<g class="t9"><text x="888.5" y="82">ASK14</text><text x="888.5" y="104.5">BSSA14</text><text x="888.5" y="127">CB14</text><text x="888.5" y="149.5">CY14</text><text x="888.5" y="172">ShakeMap (cities)</text><text x="888.5" y="194.5">ShakeMap (stations)</text></g>
</svg>
</body></html>
